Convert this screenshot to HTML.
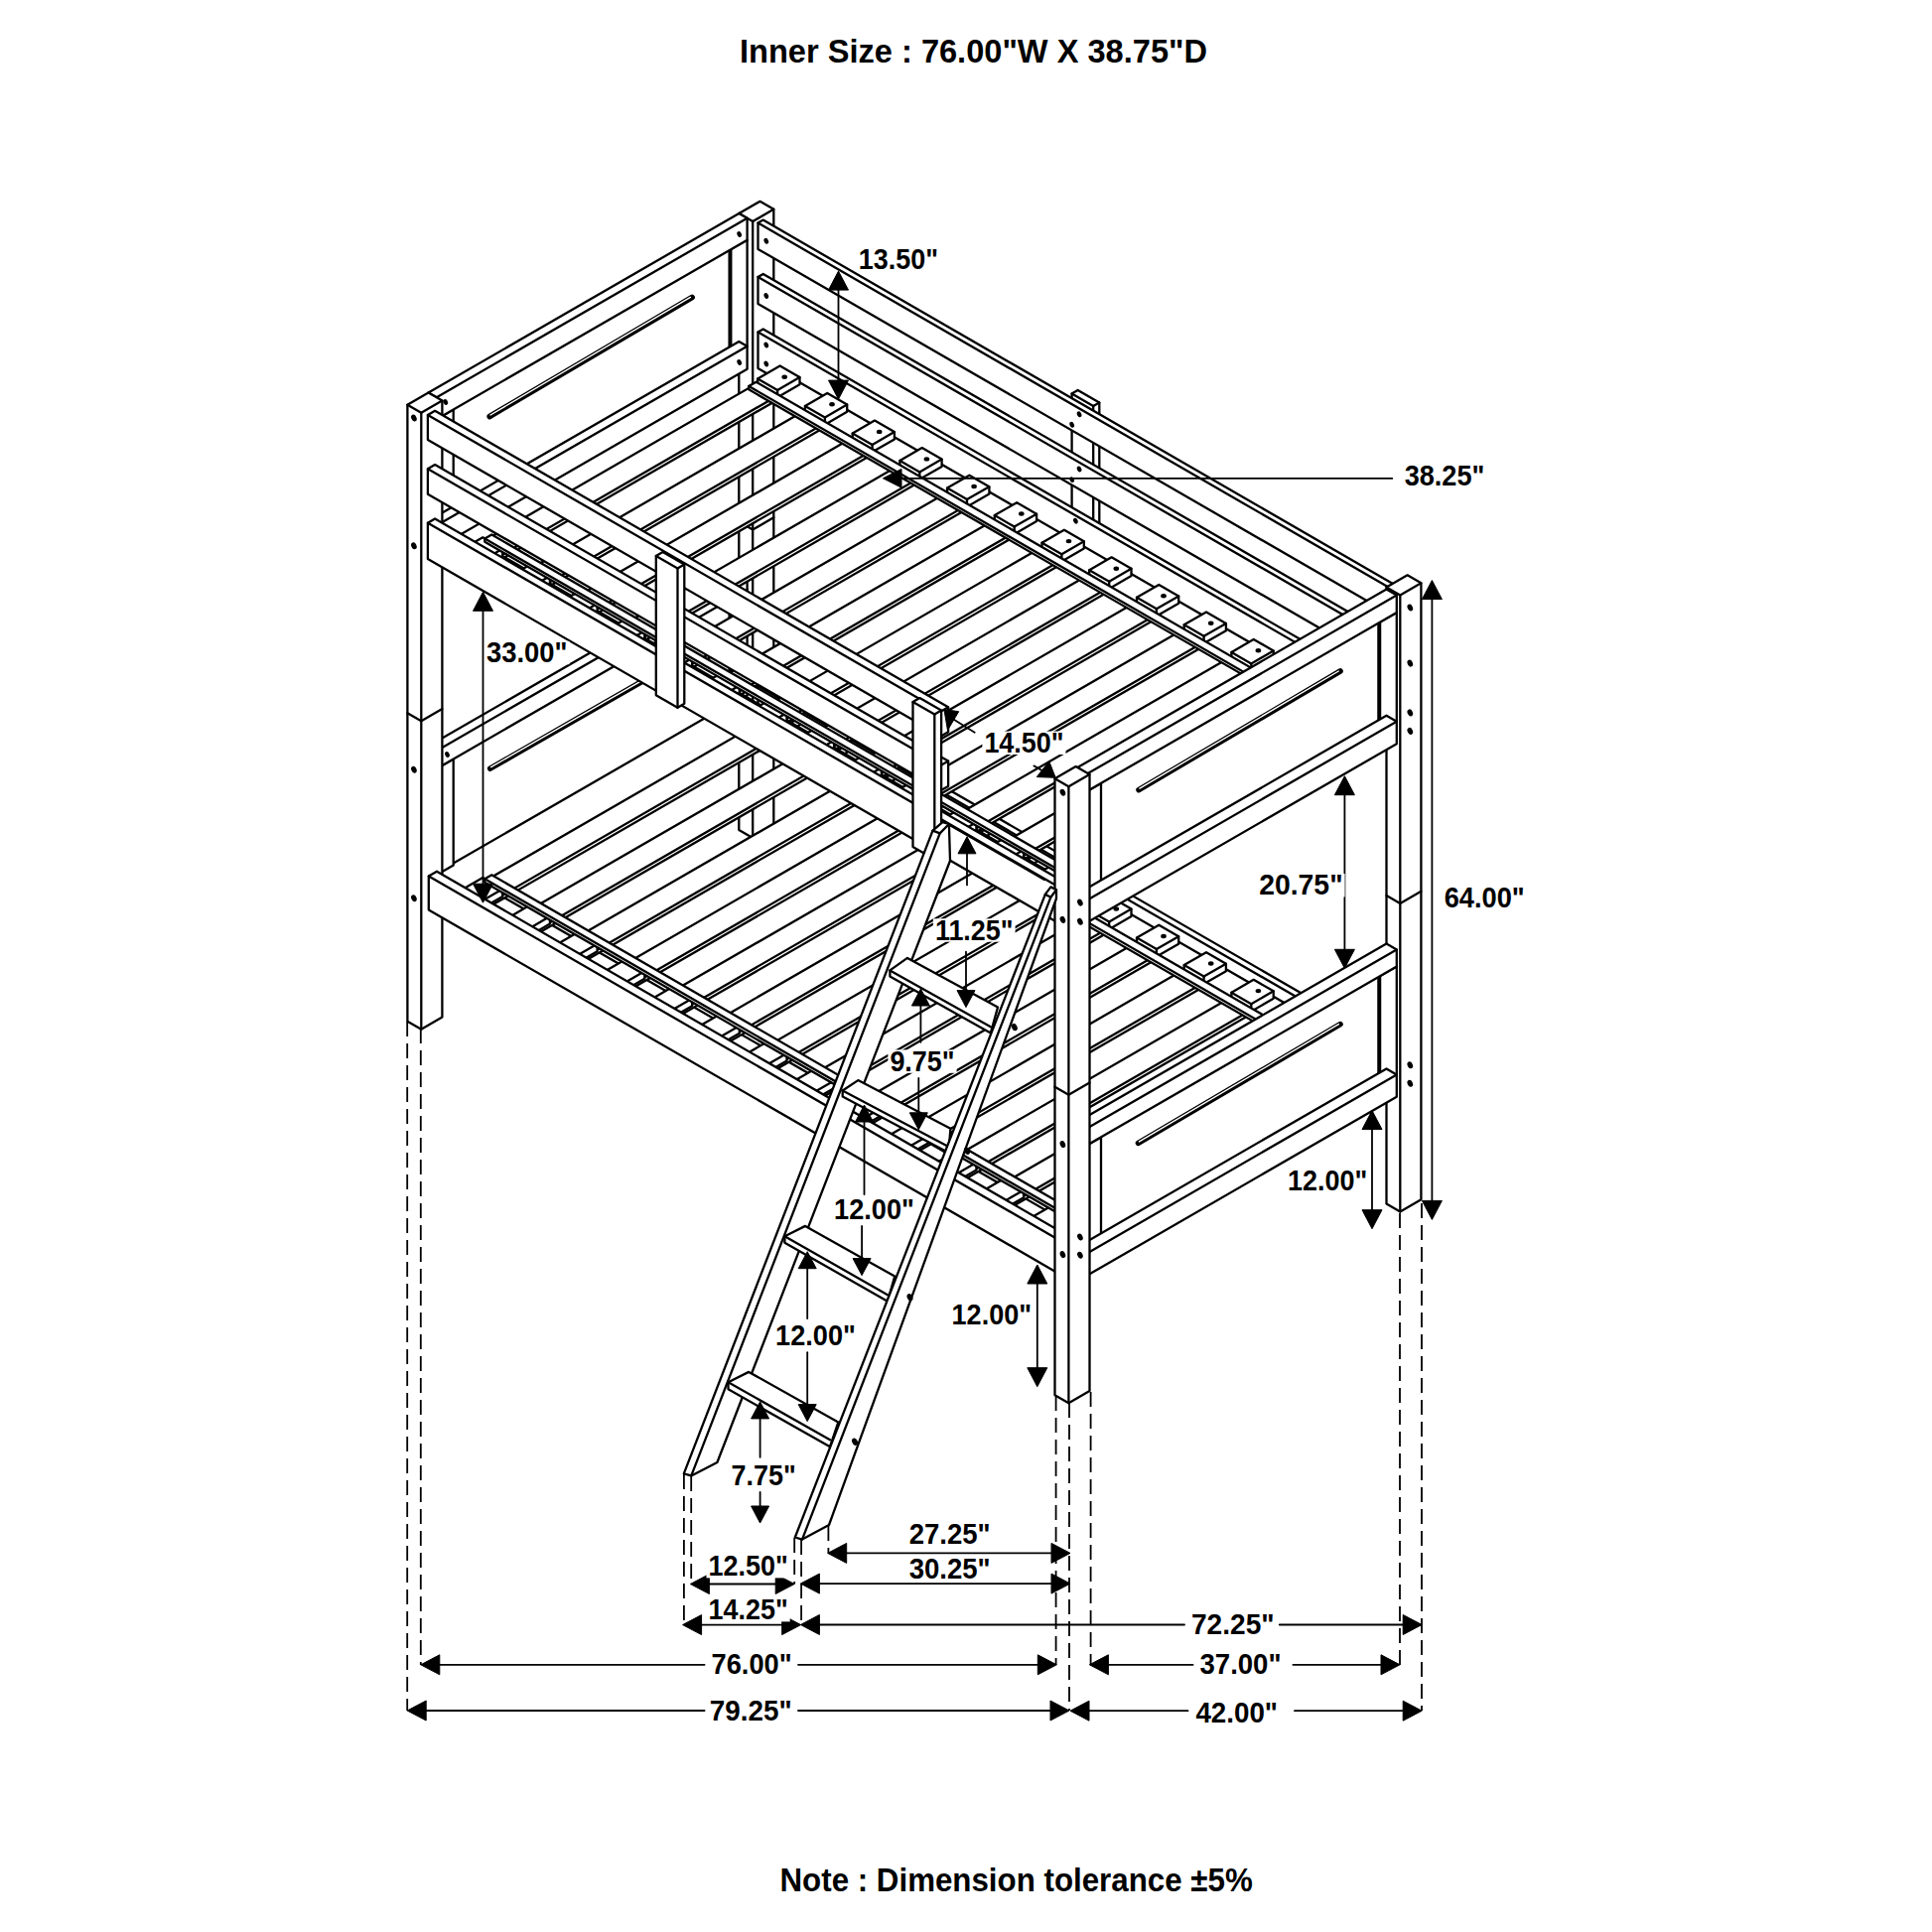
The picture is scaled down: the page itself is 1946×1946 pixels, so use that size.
<!DOCTYPE html>
<html><head><meta charset="utf-8"><style>
html,body{margin:0;padding:0;background:#fff;}
svg{display:block;}
</style></head><body>
<svg xmlns="http://www.w3.org/2000/svg" width="1946" height="1946" viewBox="0 0 1946 1946">
<rect width="1946" height="1946" fill="#fff"/>
<polygon points="744.3,215.0 765.5,202.8 779.3,210.8 779.3,831.8 758.2,844.0 744.3,836.0" fill="#fff" stroke="#000" stroke-width="2.30" stroke-linejoin="round" />
<line x1="758.2" y1="223.0" x2="744.3" y2="215.0" stroke="#000" stroke-width="2.30" stroke-linecap="round" />
<line x1="758.2" y1="223.0" x2="779.3" y2="210.8" stroke="#000" stroke-width="2.30" stroke-linecap="round" />
<line x1="758.2" y1="223.0" x2="758.2" y2="844.0" stroke="#000" stroke-width="2.30" stroke-linecap="round" />
<polyline points="744.3,525.5 758.2,533.5 779.3,521.3" fill="none" stroke="#000" stroke-width="2.30" stroke-linejoin="round" stroke-linecap="round" />
<polygon points="438.0,773.3 750.8,592.8 750.8,699.8 438.0,880.3" fill="#fff" stroke="#000" stroke-width="2.30" stroke-linejoin="round" />
<polygon points="438.0,773.3 455.0,763.5 456.7,764.5 456.7,871.5 439.8,881.3 438.0,880.3" fill="#fff" stroke="#000" stroke-width="2.30" stroke-linejoin="round" />
<line x1="439.8" y1="774.3" x2="438.0" y2="773.3" stroke="#000" stroke-width="2.30" stroke-linecap="round" />
<line x1="439.8" y1="774.3" x2="456.7" y2="764.5" stroke="#000" stroke-width="2.30" stroke-linecap="round" />
<line x1="439.8" y1="774.3" x2="439.8" y2="881.3" stroke="#000" stroke-width="2.30" stroke-linecap="round" />
<polygon points="734.6,602.1 750.8,592.8 752.6,593.8 752.6,700.8 736.3,710.1 734.6,709.1" fill="#fff" stroke="#000" stroke-width="2.30" stroke-linejoin="round" />
<line x1="736.3" y1="603.1" x2="734.6" y2="602.1" stroke="#000" stroke-width="2.30" stroke-linecap="round" />
<line x1="736.3" y1="603.1" x2="752.6" y2="593.8" stroke="#000" stroke-width="2.30" stroke-linecap="round" />
<line x1="736.3" y1="603.1" x2="736.3" y2="710.1" stroke="#000" stroke-width="2.30" stroke-linecap="round" />
<polygon points="431.5,751.6 744.3,571.0 752.6,575.8 752.6,593.8 439.8,774.3 431.5,769.6" fill="#fff" stroke="#000" stroke-width="2.30" stroke-linejoin="round" />
<line x1="439.8" y1="756.3" x2="431.5" y2="751.6" stroke="#000" stroke-width="2.30" stroke-linecap="round" />
<line x1="439.8" y1="756.3" x2="752.6" y2="575.8" stroke="#000" stroke-width="2.30" stroke-linecap="round" />
<line x1="439.8" y1="756.3" x2="439.8" y2="774.3" stroke="#000" stroke-width="2.30" stroke-linecap="round" />
<line x1="493.7" y1="774.1" x2="695.8" y2="658.3" stroke="#000" stroke-width="5.6" stroke-linecap="round"/>
<line x1="494.6" y1="772.6" x2="694.0" y2="658.3" stroke="#fff" stroke-width="1.4" stroke-linecap="round"/>
<polygon points="438.0,421.3 750.8,240.8 750.8,347.8 438.0,528.3" fill="#fff" stroke="#000" stroke-width="2.30" stroke-linejoin="round" />
<polygon points="438.0,421.3 455.0,411.5 456.7,412.5 456.7,519.5 439.8,529.3 438.0,528.3" fill="#fff" stroke="#000" stroke-width="2.30" stroke-linejoin="round" />
<line x1="439.8" y1="422.3" x2="438.0" y2="421.3" stroke="#000" stroke-width="2.30" stroke-linecap="round" />
<line x1="439.8" y1="422.3" x2="456.7" y2="412.5" stroke="#000" stroke-width="2.30" stroke-linecap="round" />
<line x1="439.8" y1="422.3" x2="439.8" y2="529.3" stroke="#000" stroke-width="2.30" stroke-linecap="round" />
<polygon points="734.6,250.1 750.8,240.8 752.6,241.8 752.6,348.8 736.3,358.1 734.6,357.1" fill="#fff" stroke="#000" stroke-width="2.30" stroke-linejoin="round" />
<line x1="736.3" y1="251.1" x2="734.6" y2="250.1" stroke="#000" stroke-width="2.30" stroke-linecap="round" />
<line x1="736.3" y1="251.1" x2="752.6" y2="241.8" stroke="#000" stroke-width="2.30" stroke-linecap="round" />
<line x1="736.3" y1="251.1" x2="736.3" y2="358.1" stroke="#000" stroke-width="2.30" stroke-linecap="round" />
<polygon points="431.5,395.6 744.3,215.0 752.6,219.8 752.6,241.8 439.8,422.3 431.5,417.6" fill="#fff" stroke="#000" stroke-width="2.30" stroke-linejoin="round" />
<line x1="439.8" y1="400.3" x2="431.5" y2="395.6" stroke="#000" stroke-width="2.30" stroke-linecap="round" />
<line x1="439.8" y1="400.3" x2="752.6" y2="219.8" stroke="#000" stroke-width="2.30" stroke-linecap="round" />
<line x1="439.8" y1="400.3" x2="439.8" y2="422.3" stroke="#000" stroke-width="2.30" stroke-linecap="round" />
<polygon points="431.5,524.6 744.3,344.0 752.6,348.8 752.6,371.8 439.8,552.3 431.5,547.6" fill="#fff" stroke="#000" stroke-width="2.30" stroke-linejoin="round" />
<line x1="439.8" y1="529.3" x2="431.5" y2="524.6" stroke="#000" stroke-width="2.30" stroke-linecap="round" />
<line x1="439.8" y1="529.3" x2="752.6" y2="348.8" stroke="#000" stroke-width="2.30" stroke-linecap="round" />
<line x1="439.8" y1="529.3" x2="439.8" y2="552.3" stroke="#000" stroke-width="2.30" stroke-linecap="round" />
<line x1="493.2" y1="419.5" x2="697.1" y2="299.5" stroke="#000" stroke-width="5.6" stroke-linecap="round"/>
<line x1="494.0" y1="418.0" x2="695.4" y2="299.4" stroke="#fff" stroke-width="1.4" stroke-linecap="round"/>
<polygon points="763.5,690.9 769.1,687.7 1407.4,1056.2 1407.4,1090.2 1401.7,1093.5 763.5,724.9" fill="#fff" stroke="#000" stroke-width="2.30" stroke-linejoin="round" />
<line x1="1401.7" y1="1059.5" x2="763.5" y2="690.9" stroke="#000" stroke-width="2.30" stroke-linecap="round" />
<line x1="1401.7" y1="1059.5" x2="1407.4" y2="1056.2" stroke="#000" stroke-width="2.30" stroke-linecap="round" />
<line x1="1401.7" y1="1059.5" x2="1401.7" y2="1093.5" stroke="#000" stroke-width="2.30" stroke-linecap="round" />
<polygon points="760.1,729.9 784.3,715.9 1401.7,1072.5 1401.7,1078.5 1377.6,1092.4 760.1,735.9" fill="#fff" stroke="#000" stroke-width="2.30" stroke-linejoin="round" />
<line x1="1377.6" y1="1086.4" x2="760.1" y2="729.9" stroke="#000" stroke-width="2.30" stroke-linecap="round" />
<line x1="1377.6" y1="1086.4" x2="1401.7" y2="1072.5" stroke="#000" stroke-width="2.30" stroke-linecap="round" />
<line x1="1377.6" y1="1086.4" x2="1377.6" y2="1092.4" stroke="#000" stroke-width="2.30" stroke-linecap="round" />
<polygon points="460.8,902.7 483.1,889.8 1100.6,1246.3 1100.6,1252.3 1078.3,1265.2 460.8,908.7" fill="#fff" stroke="#000" stroke-width="2.30" stroke-linejoin="round" />
<line x1="1078.3" y1="1259.2" x2="460.8" y2="902.7" stroke="#000" stroke-width="2.30" stroke-linecap="round" />
<line x1="1078.3" y1="1259.2" x2="1100.6" y2="1246.3" stroke="#000" stroke-width="2.30" stroke-linecap="round" />
<line x1="1078.3" y1="1259.2" x2="1078.3" y2="1265.2" stroke="#000" stroke-width="2.30" stroke-linecap="round" />
<polygon points="466.7,899.9 764.1,728.2 785.3,740.4 785.3,744.4 487.9,916.1 466.7,903.9" fill="#fff" stroke="#000" stroke-width="2.30" stroke-linejoin="round" />
<line x1="487.9" y1="912.1" x2="466.7" y2="899.9" stroke="#000" stroke-width="2.30" stroke-linecap="round" />
<line x1="487.9" y1="912.1" x2="785.3" y2="740.4" stroke="#000" stroke-width="2.30" stroke-linecap="round" />
<line x1="487.9" y1="912.1" x2="487.9" y2="916.1" stroke="#000" stroke-width="2.30" stroke-linecap="round" />
<polygon points="514.4,927.5 811.8,755.8 833.0,768.0 833.0,772.0 535.6,943.7 514.4,931.5" fill="#fff" stroke="#000" stroke-width="2.30" stroke-linejoin="round" />
<line x1="535.6" y1="939.7" x2="514.4" y2="927.5" stroke="#000" stroke-width="2.30" stroke-linecap="round" />
<line x1="535.6" y1="939.7" x2="833.0" y2="768.0" stroke="#000" stroke-width="2.30" stroke-linecap="round" />
<line x1="535.6" y1="939.7" x2="535.6" y2="943.7" stroke="#000" stroke-width="2.30" stroke-linecap="round" />
<polygon points="562.1,955.0 859.5,783.3 880.7,795.5 880.7,799.5 583.3,971.2 562.1,959.0" fill="#fff" stroke="#000" stroke-width="2.30" stroke-linejoin="round" />
<line x1="583.3" y1="967.2" x2="562.1" y2="955.0" stroke="#000" stroke-width="2.30" stroke-linecap="round" />
<line x1="583.3" y1="967.2" x2="880.7" y2="795.5" stroke="#000" stroke-width="2.30" stroke-linecap="round" />
<line x1="583.3" y1="967.2" x2="583.3" y2="971.2" stroke="#000" stroke-width="2.30" stroke-linecap="round" />
<polygon points="609.8,982.5 907.2,810.8 928.5,823.1 928.5,827.1 631.1,998.8 609.8,986.5" fill="#fff" stroke="#000" stroke-width="2.30" stroke-linejoin="round" />
<line x1="631.1" y1="994.8" x2="609.8" y2="982.5" stroke="#000" stroke-width="2.30" stroke-linecap="round" />
<line x1="631.1" y1="994.8" x2="928.5" y2="823.1" stroke="#000" stroke-width="2.30" stroke-linecap="round" />
<line x1="631.1" y1="994.8" x2="631.1" y2="998.8" stroke="#000" stroke-width="2.30" stroke-linecap="round" />
<polygon points="657.6,1010.1 955.0,838.4 976.2,850.6 976.2,854.6 678.8,1026.3 657.6,1014.1" fill="#fff" stroke="#000" stroke-width="2.30" stroke-linejoin="round" />
<line x1="678.8" y1="1022.3" x2="657.6" y2="1010.1" stroke="#000" stroke-width="2.30" stroke-linecap="round" />
<line x1="678.8" y1="1022.3" x2="976.2" y2="850.6" stroke="#000" stroke-width="2.30" stroke-linecap="round" />
<line x1="678.8" y1="1022.3" x2="678.8" y2="1026.3" stroke="#000" stroke-width="2.30" stroke-linecap="round" />
<polygon points="705.3,1037.7 1002.7,865.9 1023.9,878.2 1023.9,882.2 726.5,1053.9 705.3,1041.7" fill="#fff" stroke="#000" stroke-width="2.30" stroke-linejoin="round" />
<line x1="726.5" y1="1049.9" x2="705.3" y2="1037.7" stroke="#000" stroke-width="2.30" stroke-linecap="round" />
<line x1="726.5" y1="1049.9" x2="1023.9" y2="878.2" stroke="#000" stroke-width="2.30" stroke-linecap="round" />
<line x1="726.5" y1="1049.9" x2="726.5" y2="1053.9" stroke="#000" stroke-width="2.30" stroke-linecap="round" />
<polygon points="753.0,1065.2 1050.4,893.5 1071.6,905.8 1071.6,909.8 774.2,1081.5 753.0,1069.2" fill="#fff" stroke="#000" stroke-width="2.30" stroke-linejoin="round" />
<line x1="774.2" y1="1077.5" x2="753.0" y2="1065.2" stroke="#000" stroke-width="2.30" stroke-linecap="round" />
<line x1="774.2" y1="1077.5" x2="1071.6" y2="905.8" stroke="#000" stroke-width="2.30" stroke-linecap="round" />
<line x1="774.2" y1="1077.5" x2="774.2" y2="1081.5" stroke="#000" stroke-width="2.30" stroke-linecap="round" />
<polygon points="800.7,1092.8 1098.1,921.0 1119.3,933.3 1119.3,937.3 821.9,1109.0 800.7,1096.8" fill="#fff" stroke="#000" stroke-width="2.30" stroke-linejoin="round" />
<line x1="821.9" y1="1105.0" x2="800.7" y2="1092.8" stroke="#000" stroke-width="2.30" stroke-linecap="round" />
<line x1="821.9" y1="1105.0" x2="1119.3" y2="933.3" stroke="#000" stroke-width="2.30" stroke-linecap="round" />
<line x1="821.9" y1="1105.0" x2="821.9" y2="1109.0" stroke="#000" stroke-width="2.30" stroke-linecap="round" />
<polygon points="848.4,1120.3 1145.8,948.6 1167.0,960.8 1167.0,964.8 869.7,1136.5 848.4,1124.3" fill="#fff" stroke="#000" stroke-width="2.30" stroke-linejoin="round" />
<line x1="869.7" y1="1132.5" x2="848.4" y2="1120.3" stroke="#000" stroke-width="2.30" stroke-linecap="round" />
<line x1="869.7" y1="1132.5" x2="1167.0" y2="960.8" stroke="#000" stroke-width="2.30" stroke-linecap="round" />
<line x1="869.7" y1="1132.5" x2="869.7" y2="1136.5" stroke="#000" stroke-width="2.30" stroke-linecap="round" />
<polygon points="896.2,1147.8 1193.5,976.1 1214.8,988.4 1214.8,992.4 917.4,1164.1 896.2,1151.8" fill="#fff" stroke="#000" stroke-width="2.30" stroke-linejoin="round" />
<line x1="917.4" y1="1160.1" x2="896.2" y2="1147.8" stroke="#000" stroke-width="2.30" stroke-linecap="round" />
<line x1="917.4" y1="1160.1" x2="1214.8" y2="988.4" stroke="#000" stroke-width="2.30" stroke-linecap="round" />
<line x1="917.4" y1="1160.1" x2="917.4" y2="1164.1" stroke="#000" stroke-width="2.30" stroke-linecap="round" />
<polygon points="943.9,1175.4 1241.3,1003.7 1262.5,1016.0 1262.5,1020.0 965.1,1191.7 943.9,1179.4" fill="#fff" stroke="#000" stroke-width="2.30" stroke-linejoin="round" />
<line x1="965.1" y1="1187.7" x2="943.9" y2="1175.4" stroke="#000" stroke-width="2.30" stroke-linecap="round" />
<line x1="965.1" y1="1187.7" x2="1262.5" y2="1016.0" stroke="#000" stroke-width="2.30" stroke-linecap="round" />
<line x1="965.1" y1="1187.7" x2="965.1" y2="1191.7" stroke="#000" stroke-width="2.30" stroke-linecap="round" />
<polygon points="991.6,1203.0 1289.0,1031.2 1310.2,1043.5 1310.2,1047.5 1012.8,1219.2 991.6,1207.0" fill="#fff" stroke="#000" stroke-width="2.30" stroke-linejoin="round" />
<line x1="1012.8" y1="1215.2" x2="991.6" y2="1203.0" stroke="#000" stroke-width="2.30" stroke-linecap="round" />
<line x1="1012.8" y1="1215.2" x2="1310.2" y2="1043.5" stroke="#000" stroke-width="2.30" stroke-linecap="round" />
<line x1="1012.8" y1="1215.2" x2="1012.8" y2="1219.2" stroke="#000" stroke-width="2.30" stroke-linecap="round" />
<polygon points="1039.3,1230.5 1336.7,1058.8 1357.9,1071.0 1357.9,1075.0 1060.5,1246.8 1039.3,1234.5" fill="#fff" stroke="#000" stroke-width="2.30" stroke-linejoin="round" />
<line x1="1060.5" y1="1242.8" x2="1039.3" y2="1230.5" stroke="#000" stroke-width="2.30" stroke-linecap="round" />
<line x1="1060.5" y1="1242.8" x2="1357.9" y2="1071.0" stroke="#000" stroke-width="2.30" stroke-linecap="round" />
<line x1="1060.5" y1="1242.8" x2="1060.5" y2="1246.8" stroke="#000" stroke-width="2.30" stroke-linecap="round" />
<polygon points="763.2,724.2 785.6,711.3 805.5,722.8 805.5,730.3 783.1,743.2 763.2,731.7" fill="#fff" stroke="#000" stroke-width="2.30" stroke-linejoin="round" />
<line x1="783.1" y1="735.7" x2="763.2" y2="724.2" stroke="#000" stroke-width="2.30" stroke-linecap="round" />
<line x1="783.1" y1="735.7" x2="805.5" y2="722.8" stroke="#000" stroke-width="2.30" stroke-linecap="round" />
<line x1="783.1" y1="735.7" x2="783.1" y2="743.2" stroke="#000" stroke-width="2.30" stroke-linecap="round" />
<ellipse cx="790.2" cy="722.6" rx="2.80" ry="2.20" fill="#000" transform="rotate(0 790.2 722.6)"/>
<polygon points="810.9,751.8 833.3,738.8 853.2,750.3 853.2,757.8 830.9,770.8 810.9,759.2" fill="#fff" stroke="#000" stroke-width="2.30" stroke-linejoin="round" />
<line x1="830.9" y1="763.2" x2="810.9" y2="751.8" stroke="#000" stroke-width="2.30" stroke-linecap="round" />
<line x1="830.9" y1="763.2" x2="853.2" y2="750.3" stroke="#000" stroke-width="2.30" stroke-linecap="round" />
<line x1="830.9" y1="763.2" x2="830.9" y2="770.8" stroke="#000" stroke-width="2.30" stroke-linecap="round" />
<ellipse cx="838.0" cy="750.1" rx="2.80" ry="2.20" fill="#000" transform="rotate(0 838.0 750.1)"/>
<polygon points="858.7,779.3 881.0,766.4 900.9,777.9 900.9,785.4 878.6,798.3 858.7,786.8" fill="#fff" stroke="#000" stroke-width="2.30" stroke-linejoin="round" />
<line x1="878.6" y1="790.8" x2="858.7" y2="779.3" stroke="#000" stroke-width="2.30" stroke-linecap="round" />
<line x1="878.6" y1="790.8" x2="900.9" y2="777.9" stroke="#000" stroke-width="2.30" stroke-linecap="round" />
<line x1="878.6" y1="790.8" x2="878.6" y2="798.3" stroke="#000" stroke-width="2.30" stroke-linecap="round" />
<ellipse cx="885.7" cy="777.7" rx="2.80" ry="2.20" fill="#000" transform="rotate(0 885.7 777.7)"/>
<polygon points="906.4,806.8 928.7,793.9 948.6,805.4 948.6,812.9 926.3,825.8 906.4,814.3" fill="#fff" stroke="#000" stroke-width="2.30" stroke-linejoin="round" />
<line x1="926.3" y1="818.3" x2="906.4" y2="806.8" stroke="#000" stroke-width="2.30" stroke-linecap="round" />
<line x1="926.3" y1="818.3" x2="948.6" y2="805.4" stroke="#000" stroke-width="2.30" stroke-linecap="round" />
<line x1="926.3" y1="818.3" x2="926.3" y2="825.8" stroke="#000" stroke-width="2.30" stroke-linecap="round" />
<ellipse cx="933.4" cy="805.2" rx="2.80" ry="2.20" fill="#000" transform="rotate(0 933.4 805.2)"/>
<polygon points="954.1,834.4 976.4,821.5 996.4,833.0 996.4,840.5 974.0,853.4 954.1,841.9" fill="#fff" stroke="#000" stroke-width="2.30" stroke-linejoin="round" />
<line x1="974.0" y1="845.9" x2="954.1" y2="834.4" stroke="#000" stroke-width="2.30" stroke-linecap="round" />
<line x1="974.0" y1="845.9" x2="996.4" y2="833.0" stroke="#000" stroke-width="2.30" stroke-linecap="round" />
<line x1="974.0" y1="845.9" x2="974.0" y2="853.4" stroke="#000" stroke-width="2.30" stroke-linecap="round" />
<ellipse cx="981.1" cy="832.8" rx="2.80" ry="2.20" fill="#000" transform="rotate(0 981.1 832.8)"/>
<polygon points="1001.8,861.9 1024.2,849.0 1044.1,860.5 1044.1,868.0 1021.7,880.9 1001.8,869.4" fill="#fff" stroke="#000" stroke-width="2.30" stroke-linejoin="round" />
<line x1="1021.7" y1="873.4" x2="1001.8" y2="861.9" stroke="#000" stroke-width="2.30" stroke-linecap="round" />
<line x1="1021.7" y1="873.4" x2="1044.1" y2="860.5" stroke="#000" stroke-width="2.30" stroke-linecap="round" />
<line x1="1021.7" y1="873.4" x2="1021.7" y2="880.9" stroke="#000" stroke-width="2.30" stroke-linecap="round" />
<ellipse cx="1028.8" cy="860.3" rx="2.80" ry="2.20" fill="#000" transform="rotate(0 1028.8 860.3)"/>
<polygon points="1049.5,889.5 1071.9,876.6 1091.8,888.1 1091.8,895.6 1069.4,908.5 1049.5,897.0" fill="#fff" stroke="#000" stroke-width="2.30" stroke-linejoin="round" />
<line x1="1069.4" y1="901.0" x2="1049.5" y2="889.5" stroke="#000" stroke-width="2.30" stroke-linecap="round" />
<line x1="1069.4" y1="901.0" x2="1091.8" y2="888.1" stroke="#000" stroke-width="2.30" stroke-linecap="round" />
<line x1="1069.4" y1="901.0" x2="1069.4" y2="908.5" stroke="#000" stroke-width="2.30" stroke-linecap="round" />
<ellipse cx="1076.5" cy="887.9" rx="2.80" ry="2.20" fill="#000" transform="rotate(0 1076.5 887.9)"/>
<polygon points="1097.2,917.0 1119.6,904.1 1139.5,915.6 1139.5,923.1 1117.2,936.0 1097.2,924.5" fill="#fff" stroke="#000" stroke-width="2.30" stroke-linejoin="round" />
<line x1="1117.2" y1="928.5" x2="1097.2" y2="917.0" stroke="#000" stroke-width="2.30" stroke-linecap="round" />
<line x1="1117.2" y1="928.5" x2="1139.5" y2="915.6" stroke="#000" stroke-width="2.30" stroke-linecap="round" />
<line x1="1117.2" y1="928.5" x2="1117.2" y2="936.0" stroke="#000" stroke-width="2.30" stroke-linecap="round" />
<ellipse cx="1124.3" cy="915.5" rx="2.80" ry="2.20" fill="#000" transform="rotate(0 1124.3 915.5)"/>
<polygon points="1145.0,944.6 1167.3,931.7 1187.2,943.2 1187.2,950.7 1164.9,963.6 1145.0,952.1" fill="#fff" stroke="#000" stroke-width="2.30" stroke-linejoin="round" />
<line x1="1164.9" y1="956.1" x2="1145.0" y2="944.6" stroke="#000" stroke-width="2.30" stroke-linecap="round" />
<line x1="1164.9" y1="956.1" x2="1187.2" y2="943.2" stroke="#000" stroke-width="2.30" stroke-linecap="round" />
<line x1="1164.9" y1="956.1" x2="1164.9" y2="963.6" stroke="#000" stroke-width="2.30" stroke-linecap="round" />
<ellipse cx="1172.0" cy="943.0" rx="2.80" ry="2.20" fill="#000" transform="rotate(0 1172.0 943.0)"/>
<polygon points="1192.7,972.1 1215.0,959.2 1234.9,970.8 1234.9,978.2 1212.6,991.1 1192.7,979.6" fill="#fff" stroke="#000" stroke-width="2.30" stroke-linejoin="round" />
<line x1="1212.6" y1="983.6" x2="1192.7" y2="972.1" stroke="#000" stroke-width="2.30" stroke-linecap="round" />
<line x1="1212.6" y1="983.6" x2="1234.9" y2="970.8" stroke="#000" stroke-width="2.30" stroke-linecap="round" />
<line x1="1212.6" y1="983.6" x2="1212.6" y2="991.1" stroke="#000" stroke-width="2.30" stroke-linecap="round" />
<ellipse cx="1219.7" cy="970.5" rx="2.80" ry="2.20" fill="#000" transform="rotate(0 1219.7 970.5)"/>
<polygon points="1240.4,999.7 1262.7,986.8 1282.7,998.3 1282.7,1005.8 1260.3,1018.7 1240.4,1007.2" fill="#fff" stroke="#000" stroke-width="2.30" stroke-linejoin="round" />
<line x1="1260.3" y1="1011.2" x2="1240.4" y2="999.7" stroke="#000" stroke-width="2.30" stroke-linecap="round" />
<line x1="1260.3" y1="1011.2" x2="1282.7" y2="998.3" stroke="#000" stroke-width="2.30" stroke-linecap="round" />
<line x1="1260.3" y1="1011.2" x2="1260.3" y2="1018.7" stroke="#000" stroke-width="2.30" stroke-linecap="round" />
<ellipse cx="1267.4" cy="998.1" rx="2.80" ry="2.20" fill="#000" transform="rotate(0 1267.4 998.1)"/>
<polygon points="1288.1,1027.2 1310.5,1014.3 1330.4,1025.8 1330.4,1033.3 1308.0,1046.2 1288.1,1034.8" fill="#fff" stroke="#000" stroke-width="2.30" stroke-linejoin="round" />
<line x1="1308.0" y1="1038.8" x2="1288.1" y2="1027.2" stroke="#000" stroke-width="2.30" stroke-linecap="round" />
<line x1="1308.0" y1="1038.8" x2="1330.4" y2="1025.8" stroke="#000" stroke-width="2.30" stroke-linecap="round" />
<line x1="1308.0" y1="1038.8" x2="1308.0" y2="1046.2" stroke="#000" stroke-width="2.30" stroke-linecap="round" />
<ellipse cx="1315.1" cy="1025.7" rx="2.80" ry="2.20" fill="#000" transform="rotate(0 1315.1 1025.7)"/>
<polygon points="1335.8,1054.8 1358.2,1041.9 1378.1,1053.4 1378.1,1060.9 1355.8,1073.8 1335.8,1062.3" fill="#fff" stroke="#000" stroke-width="2.30" stroke-linejoin="round" />
<line x1="1355.8" y1="1066.3" x2="1335.8" y2="1054.8" stroke="#000" stroke-width="2.30" stroke-linecap="round" />
<line x1="1355.8" y1="1066.3" x2="1378.1" y2="1053.4" stroke="#000" stroke-width="2.30" stroke-linecap="round" />
<line x1="1355.8" y1="1066.3" x2="1355.8" y2="1073.8" stroke="#000" stroke-width="2.30" stroke-linecap="round" />
<ellipse cx="1362.9" cy="1053.2" rx="2.80" ry="2.20" fill="#000" transform="rotate(0 1362.9 1053.2)"/>
<polygon points="754.2,731.8 761.6,727.5 1362.6,1074.5 1362.6,1078.0 1355.2,1082.3 754.2,735.3" fill="#fff" stroke="#000" stroke-width="2.30" stroke-linejoin="round" />
<line x1="1355.2" y1="1078.8" x2="754.2" y2="731.8" stroke="#000" stroke-width="2.30" stroke-linecap="round" />
<line x1="1355.2" y1="1078.8" x2="1362.6" y2="1074.5" stroke="#000" stroke-width="2.30" stroke-linecap="round" />
<line x1="1355.2" y1="1078.8" x2="1355.2" y2="1082.3" stroke="#000" stroke-width="2.30" stroke-linecap="round" />
<polygon points="464.2,896.8 486.3,884.1 506.2,895.6 506.2,903.1 484.1,915.8 464.2,904.3" fill="#fff" stroke="#000" stroke-width="2.30" stroke-linejoin="round" />
<line x1="484.1" y1="908.3" x2="464.2" y2="896.8" stroke="#000" stroke-width="2.30" stroke-linecap="round" />
<line x1="484.1" y1="908.3" x2="506.2" y2="895.6" stroke="#000" stroke-width="2.30" stroke-linecap="round" />
<line x1="484.1" y1="908.3" x2="484.1" y2="915.8" stroke="#000" stroke-width="2.30" stroke-linecap="round" />
<polygon points="511.9,924.4 534.0,911.6 553.9,923.1 553.9,930.6 531.8,943.4 511.9,931.9" fill="#fff" stroke="#000" stroke-width="2.30" stroke-linejoin="round" />
<line x1="531.8" y1="935.9" x2="511.9" y2="924.4" stroke="#000" stroke-width="2.30" stroke-linecap="round" />
<line x1="531.8" y1="935.9" x2="553.9" y2="923.1" stroke="#000" stroke-width="2.30" stroke-linecap="round" />
<line x1="531.8" y1="935.9" x2="531.8" y2="943.4" stroke="#000" stroke-width="2.30" stroke-linecap="round" />
<polygon points="559.6,952.0 581.7,939.2 601.6,950.7 601.6,958.2 579.5,971.0 559.6,959.5" fill="#fff" stroke="#000" stroke-width="2.30" stroke-linejoin="round" />
<line x1="579.5" y1="963.5" x2="559.6" y2="952.0" stroke="#000" stroke-width="2.30" stroke-linecap="round" />
<line x1="579.5" y1="963.5" x2="601.6" y2="950.7" stroke="#000" stroke-width="2.30" stroke-linecap="round" />
<line x1="579.5" y1="963.5" x2="579.5" y2="971.0" stroke="#000" stroke-width="2.30" stroke-linecap="round" />
<polygon points="607.3,979.5 629.4,966.8 649.3,978.2 649.3,985.8 627.3,998.5 607.3,987.0" fill="#fff" stroke="#000" stroke-width="2.30" stroke-linejoin="round" />
<line x1="627.3" y1="991.0" x2="607.3" y2="979.5" stroke="#000" stroke-width="2.30" stroke-linecap="round" />
<line x1="627.3" y1="991.0" x2="649.3" y2="978.2" stroke="#000" stroke-width="2.30" stroke-linecap="round" />
<line x1="627.3" y1="991.0" x2="627.3" y2="998.5" stroke="#000" stroke-width="2.30" stroke-linecap="round" />
<polygon points="655.1,1007.0 677.1,994.3 697.1,1005.8 697.1,1013.3 675.0,1026.0 655.1,1014.5" fill="#fff" stroke="#000" stroke-width="2.30" stroke-linejoin="round" />
<line x1="675.0" y1="1018.5" x2="655.1" y2="1007.0" stroke="#000" stroke-width="2.30" stroke-linecap="round" />
<line x1="675.0" y1="1018.5" x2="697.1" y2="1005.8" stroke="#000" stroke-width="2.30" stroke-linecap="round" />
<line x1="675.0" y1="1018.5" x2="675.0" y2="1026.0" stroke="#000" stroke-width="2.30" stroke-linecap="round" />
<polygon points="702.8,1034.6 724.9,1021.8 744.8,1033.3 744.8,1040.8 722.7,1053.6 702.8,1042.1" fill="#fff" stroke="#000" stroke-width="2.30" stroke-linejoin="round" />
<line x1="722.7" y1="1046.1" x2="702.8" y2="1034.6" stroke="#000" stroke-width="2.30" stroke-linecap="round" />
<line x1="722.7" y1="1046.1" x2="744.8" y2="1033.3" stroke="#000" stroke-width="2.30" stroke-linecap="round" />
<line x1="722.7" y1="1046.1" x2="722.7" y2="1053.6" stroke="#000" stroke-width="2.30" stroke-linecap="round" />
<polygon points="750.5,1062.2 772.6,1049.4 792.5,1060.9 792.5,1068.4 770.4,1081.2 750.5,1069.7" fill="#fff" stroke="#000" stroke-width="2.30" stroke-linejoin="round" />
<line x1="770.4" y1="1073.7" x2="750.5" y2="1062.2" stroke="#000" stroke-width="2.30" stroke-linecap="round" />
<line x1="770.4" y1="1073.7" x2="792.5" y2="1060.9" stroke="#000" stroke-width="2.30" stroke-linecap="round" />
<line x1="770.4" y1="1073.7" x2="770.4" y2="1081.2" stroke="#000" stroke-width="2.30" stroke-linecap="round" />
<polygon points="798.2,1089.7 820.3,1077.0 840.2,1088.5 840.2,1096.0 818.1,1108.7 798.2,1097.2" fill="#fff" stroke="#000" stroke-width="2.30" stroke-linejoin="round" />
<line x1="818.1" y1="1101.2" x2="798.2" y2="1089.7" stroke="#000" stroke-width="2.30" stroke-linecap="round" />
<line x1="818.1" y1="1101.2" x2="840.2" y2="1088.5" stroke="#000" stroke-width="2.30" stroke-linecap="round" />
<line x1="818.1" y1="1101.2" x2="818.1" y2="1108.7" stroke="#000" stroke-width="2.30" stroke-linecap="round" />
<polygon points="845.9,1117.2 868.0,1104.5 887.9,1116.0 887.9,1123.5 865.8,1136.2 845.9,1124.8" fill="#fff" stroke="#000" stroke-width="2.30" stroke-linejoin="round" />
<line x1="865.8" y1="1128.8" x2="845.9" y2="1117.2" stroke="#000" stroke-width="2.30" stroke-linecap="round" />
<line x1="865.8" y1="1128.8" x2="887.9" y2="1116.0" stroke="#000" stroke-width="2.30" stroke-linecap="round" />
<line x1="865.8" y1="1128.8" x2="865.8" y2="1136.2" stroke="#000" stroke-width="2.30" stroke-linecap="round" />
<polygon points="893.6,1144.8 915.7,1132.0 935.6,1143.5 935.6,1151.0 913.6,1163.8 893.6,1152.3" fill="#fff" stroke="#000" stroke-width="2.30" stroke-linejoin="round" />
<line x1="913.6" y1="1156.3" x2="893.6" y2="1144.8" stroke="#000" stroke-width="2.30" stroke-linecap="round" />
<line x1="913.6" y1="1156.3" x2="935.6" y2="1143.5" stroke="#000" stroke-width="2.30" stroke-linecap="round" />
<line x1="913.6" y1="1156.3" x2="913.6" y2="1163.8" stroke="#000" stroke-width="2.30" stroke-linecap="round" />
<polygon points="941.4,1172.3 963.4,1159.6 983.4,1171.1 983.4,1178.6 961.3,1191.3 941.4,1179.8" fill="#fff" stroke="#000" stroke-width="2.30" stroke-linejoin="round" />
<line x1="961.3" y1="1183.8" x2="941.4" y2="1172.3" stroke="#000" stroke-width="2.30" stroke-linecap="round" />
<line x1="961.3" y1="1183.8" x2="983.4" y2="1171.1" stroke="#000" stroke-width="2.30" stroke-linecap="round" />
<line x1="961.3" y1="1183.8" x2="961.3" y2="1191.3" stroke="#000" stroke-width="2.30" stroke-linecap="round" />
<polygon points="989.1,1199.9 1011.2,1187.2 1031.1,1198.7 1031.1,1206.2 1009.0,1218.9 989.1,1207.4" fill="#fff" stroke="#000" stroke-width="2.30" stroke-linejoin="round" />
<line x1="1009.0" y1="1211.4" x2="989.1" y2="1199.9" stroke="#000" stroke-width="2.30" stroke-linecap="round" />
<line x1="1009.0" y1="1211.4" x2="1031.1" y2="1198.7" stroke="#000" stroke-width="2.30" stroke-linecap="round" />
<line x1="1009.0" y1="1211.4" x2="1009.0" y2="1218.9" stroke="#000" stroke-width="2.30" stroke-linecap="round" />
<polygon points="1036.8,1227.5 1058.9,1214.7 1078.8,1226.2 1078.8,1233.7 1056.7,1246.5 1036.8,1235.0" fill="#fff" stroke="#000" stroke-width="2.30" stroke-linejoin="round" />
<line x1="1056.7" y1="1239.0" x2="1036.8" y2="1227.5" stroke="#000" stroke-width="2.30" stroke-linecap="round" />
<line x1="1056.7" y1="1239.0" x2="1078.8" y2="1226.2" stroke="#000" stroke-width="2.30" stroke-linecap="round" />
<line x1="1056.7" y1="1239.0" x2="1056.7" y2="1246.5" stroke="#000" stroke-width="2.30" stroke-linecap="round" />
<polygon points="488.3,885.3 495.3,881.3 1096.3,1228.3 1096.3,1231.8 1089.4,1235.8 488.3,888.8" fill="#fff" stroke="#000" stroke-width="2.30" stroke-linejoin="round" />
<line x1="1089.4" y1="1232.3" x2="488.3" y2="885.3" stroke="#000" stroke-width="2.30" stroke-linecap="round" />
<line x1="1089.4" y1="1232.3" x2="1096.3" y2="1228.3" stroke="#000" stroke-width="2.30" stroke-linecap="round" />
<line x1="1089.4" y1="1232.3" x2="1089.4" y2="1235.8" stroke="#000" stroke-width="2.30" stroke-linecap="round" />
<polygon points="1079.6,396.4 1085.6,392.9 1107.3,405.5 1107.3,586.5 1101.2,590.0 1079.6,577.4" fill="#fff" stroke="#000" stroke-width="2.30" stroke-linejoin="round" />
<line x1="1101.2" y1="409.0" x2="1079.6" y2="396.4" stroke="#000" stroke-width="2.30" stroke-linecap="round" />
<line x1="1101.2" y1="409.0" x2="1107.3" y2="405.5" stroke="#000" stroke-width="2.30" stroke-linecap="round" />
<line x1="1101.2" y1="409.0" x2="1101.2" y2="590.0" stroke="#000" stroke-width="2.30" stroke-linecap="round" />
<polygon points="763.5,224.6 768.7,221.6 1406.9,590.2 1406.9,616.5 1401.7,619.5 763.5,250.9" fill="#fff" stroke="#000" stroke-width="2.30" stroke-linejoin="round" />
<line x1="1401.7" y1="593.2" x2="763.5" y2="224.6" stroke="#000" stroke-width="2.30" stroke-linecap="round" />
<line x1="1401.7" y1="593.2" x2="1406.9" y2="590.2" stroke="#000" stroke-width="2.30" stroke-linecap="round" />
<line x1="1401.7" y1="593.2" x2="1401.7" y2="619.5" stroke="#000" stroke-width="2.30" stroke-linecap="round" />
<polygon points="763.5,278.9 768.7,275.9 1406.9,644.5 1406.9,671.5 1401.7,674.5 763.5,305.9" fill="#fff" stroke="#000" stroke-width="2.30" stroke-linejoin="round" />
<line x1="1401.7" y1="647.5" x2="763.5" y2="278.9" stroke="#000" stroke-width="2.30" stroke-linecap="round" />
<line x1="1401.7" y1="647.5" x2="1406.9" y2="644.5" stroke="#000" stroke-width="2.30" stroke-linecap="round" />
<line x1="1401.7" y1="647.5" x2="1401.7" y2="674.5" stroke="#000" stroke-width="2.30" stroke-linecap="round" />
<polygon points="763.5,334.5 768.7,331.5 1406.9,700.1 1406.9,736.5 1401.7,739.5 763.5,370.9" fill="#fff" stroke="#000" stroke-width="2.30" stroke-linejoin="round" />
<line x1="1401.7" y1="703.1" x2="763.5" y2="334.5" stroke="#000" stroke-width="2.30" stroke-linecap="round" />
<line x1="1401.7" y1="703.1" x2="1406.9" y2="700.1" stroke="#000" stroke-width="2.30" stroke-linecap="round" />
<line x1="1401.7" y1="703.1" x2="1401.7" y2="739.5" stroke="#000" stroke-width="2.30" stroke-linecap="round" />
<polygon points="760.1,386.9 784.3,372.9 1401.7,729.5 1401.7,735.5 1377.6,749.4 760.1,392.9" fill="#fff" stroke="#000" stroke-width="2.30" stroke-linejoin="round" />
<line x1="1377.6" y1="743.4" x2="760.1" y2="386.9" stroke="#000" stroke-width="2.30" stroke-linecap="round" />
<line x1="1377.6" y1="743.4" x2="1401.7" y2="729.5" stroke="#000" stroke-width="2.30" stroke-linecap="round" />
<line x1="1377.6" y1="743.4" x2="1377.6" y2="749.4" stroke="#000" stroke-width="2.30" stroke-linecap="round" />
<polygon points="466.7,556.9 764.1,385.2 785.3,397.4 785.3,401.4 487.9,573.1 466.7,560.9" fill="#fff" stroke="#000" stroke-width="2.30" stroke-linejoin="round" />
<line x1="487.9" y1="569.1" x2="466.7" y2="556.9" stroke="#000" stroke-width="2.30" stroke-linecap="round" />
<line x1="487.9" y1="569.1" x2="785.3" y2="397.4" stroke="#000" stroke-width="2.30" stroke-linecap="round" />
<line x1="487.9" y1="569.1" x2="487.9" y2="573.1" stroke="#000" stroke-width="2.30" stroke-linecap="round" />
<polygon points="514.4,584.5 811.8,412.8 833.0,425.0 833.0,429.0 535.6,600.7 514.4,588.5" fill="#fff" stroke="#000" stroke-width="2.30" stroke-linejoin="round" />
<line x1="535.6" y1="596.7" x2="514.4" y2="584.5" stroke="#000" stroke-width="2.30" stroke-linecap="round" />
<line x1="535.6" y1="596.7" x2="833.0" y2="425.0" stroke="#000" stroke-width="2.30" stroke-linecap="round" />
<line x1="535.6" y1="596.7" x2="535.6" y2="600.7" stroke="#000" stroke-width="2.30" stroke-linecap="round" />
<polygon points="562.1,612.0 859.5,440.3 880.7,452.5 880.7,456.5 583.3,628.2 562.1,616.0" fill="#fff" stroke="#000" stroke-width="2.30" stroke-linejoin="round" />
<line x1="583.3" y1="624.2" x2="562.1" y2="612.0" stroke="#000" stroke-width="2.30" stroke-linecap="round" />
<line x1="583.3" y1="624.2" x2="880.7" y2="452.5" stroke="#000" stroke-width="2.30" stroke-linecap="round" />
<line x1="583.3" y1="624.2" x2="583.3" y2="628.2" stroke="#000" stroke-width="2.30" stroke-linecap="round" />
<polygon points="609.8,639.5 907.2,467.8 928.5,480.1 928.5,484.1 631.1,655.8 609.8,643.5" fill="#fff" stroke="#000" stroke-width="2.30" stroke-linejoin="round" />
<line x1="631.1" y1="651.8" x2="609.8" y2="639.5" stroke="#000" stroke-width="2.30" stroke-linecap="round" />
<line x1="631.1" y1="651.8" x2="928.5" y2="480.1" stroke="#000" stroke-width="2.30" stroke-linecap="round" />
<line x1="631.1" y1="651.8" x2="631.1" y2="655.8" stroke="#000" stroke-width="2.30" stroke-linecap="round" />
<polygon points="657.6,667.1 955.0,495.4 976.2,507.6 976.2,511.6 678.8,683.3 657.6,671.1" fill="#fff" stroke="#000" stroke-width="2.30" stroke-linejoin="round" />
<line x1="678.8" y1="679.3" x2="657.6" y2="667.1" stroke="#000" stroke-width="2.30" stroke-linecap="round" />
<line x1="678.8" y1="679.3" x2="976.2" y2="507.6" stroke="#000" stroke-width="2.30" stroke-linecap="round" />
<line x1="678.8" y1="679.3" x2="678.8" y2="683.3" stroke="#000" stroke-width="2.30" stroke-linecap="round" />
<polygon points="705.3,694.7 1002.7,522.9 1023.9,535.2 1023.9,539.2 726.5,710.9 705.3,698.7" fill="#fff" stroke="#000" stroke-width="2.30" stroke-linejoin="round" />
<line x1="726.5" y1="706.9" x2="705.3" y2="694.7" stroke="#000" stroke-width="2.30" stroke-linecap="round" />
<line x1="726.5" y1="706.9" x2="1023.9" y2="535.2" stroke="#000" stroke-width="2.30" stroke-linecap="round" />
<line x1="726.5" y1="706.9" x2="726.5" y2="710.9" stroke="#000" stroke-width="2.30" stroke-linecap="round" />
<polygon points="753.0,722.2 1050.4,550.5 1071.6,562.8 1071.6,566.8 774.2,738.5 753.0,726.2" fill="#fff" stroke="#000" stroke-width="2.30" stroke-linejoin="round" />
<line x1="774.2" y1="734.5" x2="753.0" y2="722.2" stroke="#000" stroke-width="2.30" stroke-linecap="round" />
<line x1="774.2" y1="734.5" x2="1071.6" y2="562.8" stroke="#000" stroke-width="2.30" stroke-linecap="round" />
<line x1="774.2" y1="734.5" x2="774.2" y2="738.5" stroke="#000" stroke-width="2.30" stroke-linecap="round" />
<polygon points="800.7,749.8 1098.1,578.0 1119.3,590.3 1119.3,594.3 821.9,766.0 800.7,753.8" fill="#fff" stroke="#000" stroke-width="2.30" stroke-linejoin="round" />
<line x1="821.9" y1="762.0" x2="800.7" y2="749.8" stroke="#000" stroke-width="2.30" stroke-linecap="round" />
<line x1="821.9" y1="762.0" x2="1119.3" y2="590.3" stroke="#000" stroke-width="2.30" stroke-linecap="round" />
<line x1="821.9" y1="762.0" x2="821.9" y2="766.0" stroke="#000" stroke-width="2.30" stroke-linecap="round" />
<polygon points="848.4,777.3 1145.8,605.6 1167.0,617.8 1167.0,621.8 869.7,793.5 848.4,781.3" fill="#fff" stroke="#000" stroke-width="2.30" stroke-linejoin="round" />
<line x1="869.7" y1="789.5" x2="848.4" y2="777.3" stroke="#000" stroke-width="2.30" stroke-linecap="round" />
<line x1="869.7" y1="789.5" x2="1167.0" y2="617.8" stroke="#000" stroke-width="2.30" stroke-linecap="round" />
<line x1="869.7" y1="789.5" x2="869.7" y2="793.5" stroke="#000" stroke-width="2.30" stroke-linecap="round" />
<polygon points="896.2,804.8 1193.5,633.1 1214.8,645.4 1214.8,649.4 917.4,821.1 896.2,808.8" fill="#fff" stroke="#000" stroke-width="2.30" stroke-linejoin="round" />
<line x1="917.4" y1="817.1" x2="896.2" y2="804.8" stroke="#000" stroke-width="2.30" stroke-linecap="round" />
<line x1="917.4" y1="817.1" x2="1214.8" y2="645.4" stroke="#000" stroke-width="2.30" stroke-linecap="round" />
<line x1="917.4" y1="817.1" x2="917.4" y2="821.1" stroke="#000" stroke-width="2.30" stroke-linecap="round" />
<polygon points="943.9,832.4 1241.3,660.7 1262.5,673.0 1262.5,677.0 965.1,848.7 943.9,836.4" fill="#fff" stroke="#000" stroke-width="2.30" stroke-linejoin="round" />
<line x1="965.1" y1="844.7" x2="943.9" y2="832.4" stroke="#000" stroke-width="2.30" stroke-linecap="round" />
<line x1="965.1" y1="844.7" x2="1262.5" y2="673.0" stroke="#000" stroke-width="2.30" stroke-linecap="round" />
<line x1="965.1" y1="844.7" x2="965.1" y2="848.7" stroke="#000" stroke-width="2.30" stroke-linecap="round" />
<polygon points="991.6,860.0 1289.0,688.2 1310.2,700.5 1310.2,704.5 1012.8,876.2 991.6,864.0" fill="#fff" stroke="#000" stroke-width="2.30" stroke-linejoin="round" />
<line x1="1012.8" y1="872.2" x2="991.6" y2="860.0" stroke="#000" stroke-width="2.30" stroke-linecap="round" />
<line x1="1012.8" y1="872.2" x2="1310.2" y2="700.5" stroke="#000" stroke-width="2.30" stroke-linecap="round" />
<line x1="1012.8" y1="872.2" x2="1012.8" y2="876.2" stroke="#000" stroke-width="2.30" stroke-linecap="round" />
<polygon points="1039.3,887.5 1336.7,715.8 1357.9,728.0 1357.9,732.0 1060.5,903.8 1039.3,891.5" fill="#fff" stroke="#000" stroke-width="2.30" stroke-linejoin="round" />
<line x1="1060.5" y1="899.8" x2="1039.3" y2="887.5" stroke="#000" stroke-width="2.30" stroke-linecap="round" />
<line x1="1060.5" y1="899.8" x2="1357.9" y2="728.0" stroke="#000" stroke-width="2.30" stroke-linecap="round" />
<line x1="1060.5" y1="899.8" x2="1060.5" y2="903.8" stroke="#000" stroke-width="2.30" stroke-linecap="round" />
<polygon points="763.2,381.4 785.6,368.5 805.5,380.0 805.5,387.3 783.1,400.2 763.2,388.7" fill="#fff" stroke="#000" stroke-width="2.30" stroke-linejoin="round" />
<line x1="783.1" y1="392.9" x2="763.2" y2="381.4" stroke="#000" stroke-width="2.30" stroke-linecap="round" />
<line x1="783.1" y1="392.9" x2="805.5" y2="380.0" stroke="#000" stroke-width="2.30" stroke-linecap="round" />
<line x1="783.1" y1="392.9" x2="783.1" y2="400.2" stroke="#000" stroke-width="2.30" stroke-linecap="round" />
<ellipse cx="790.2" cy="379.8" rx="2.80" ry="2.20" fill="#000" transform="rotate(0 790.2 379.8)"/>
<polygon points="810.9,408.9 833.3,396.0 853.2,407.5 853.2,414.8 830.9,427.8 810.9,416.2" fill="#fff" stroke="#000" stroke-width="2.30" stroke-linejoin="round" />
<line x1="830.9" y1="420.4" x2="810.9" y2="408.9" stroke="#000" stroke-width="2.30" stroke-linecap="round" />
<line x1="830.9" y1="420.4" x2="853.2" y2="407.5" stroke="#000" stroke-width="2.30" stroke-linecap="round" />
<line x1="830.9" y1="420.4" x2="830.9" y2="427.8" stroke="#000" stroke-width="2.30" stroke-linecap="round" />
<ellipse cx="838.0" cy="407.3" rx="2.80" ry="2.20" fill="#000" transform="rotate(0 838.0 407.3)"/>
<polygon points="858.7,436.5 881.0,423.6 900.9,435.1 900.9,442.4 878.6,455.3 858.7,443.8" fill="#fff" stroke="#000" stroke-width="2.30" stroke-linejoin="round" />
<line x1="878.6" y1="448.0" x2="858.7" y2="436.5" stroke="#000" stroke-width="2.30" stroke-linecap="round" />
<line x1="878.6" y1="448.0" x2="900.9" y2="435.1" stroke="#000" stroke-width="2.30" stroke-linecap="round" />
<line x1="878.6" y1="448.0" x2="878.6" y2="455.3" stroke="#000" stroke-width="2.30" stroke-linecap="round" />
<ellipse cx="885.7" cy="434.9" rx="2.80" ry="2.20" fill="#000" transform="rotate(0 885.7 434.9)"/>
<polygon points="906.4,464.0 928.7,451.1 948.6,462.6 948.6,469.9 926.3,482.8 906.4,471.3" fill="#fff" stroke="#000" stroke-width="2.30" stroke-linejoin="round" />
<line x1="926.3" y1="475.5" x2="906.4" y2="464.0" stroke="#000" stroke-width="2.30" stroke-linecap="round" />
<line x1="926.3" y1="475.5" x2="948.6" y2="462.6" stroke="#000" stroke-width="2.30" stroke-linecap="round" />
<line x1="926.3" y1="475.5" x2="926.3" y2="482.8" stroke="#000" stroke-width="2.30" stroke-linecap="round" />
<ellipse cx="933.4" cy="462.4" rx="2.80" ry="2.20" fill="#000" transform="rotate(0 933.4 462.4)"/>
<polygon points="954.1,491.6 976.4,478.7 996.4,490.2 996.4,497.5 974.0,510.4 954.1,498.9" fill="#fff" stroke="#000" stroke-width="2.30" stroke-linejoin="round" />
<line x1="974.0" y1="503.1" x2="954.1" y2="491.6" stroke="#000" stroke-width="2.30" stroke-linecap="round" />
<line x1="974.0" y1="503.1" x2="996.4" y2="490.2" stroke="#000" stroke-width="2.30" stroke-linecap="round" />
<line x1="974.0" y1="503.1" x2="974.0" y2="510.4" stroke="#000" stroke-width="2.30" stroke-linecap="round" />
<ellipse cx="981.1" cy="490.0" rx="2.80" ry="2.20" fill="#000" transform="rotate(0 981.1 490.0)"/>
<polygon points="1001.8,519.1 1024.2,506.2 1044.1,517.8 1044.1,525.0 1021.7,537.9 1001.8,526.4" fill="#fff" stroke="#000" stroke-width="2.30" stroke-linejoin="round" />
<line x1="1021.7" y1="530.6" x2="1001.8" y2="519.1" stroke="#000" stroke-width="2.30" stroke-linecap="round" />
<line x1="1021.7" y1="530.6" x2="1044.1" y2="517.8" stroke="#000" stroke-width="2.30" stroke-linecap="round" />
<line x1="1021.7" y1="530.6" x2="1021.7" y2="537.9" stroke="#000" stroke-width="2.30" stroke-linecap="round" />
<ellipse cx="1028.8" cy="517.5" rx="2.80" ry="2.20" fill="#000" transform="rotate(0 1028.8 517.5)"/>
<polygon points="1049.5,546.7 1071.9,533.8 1091.8,545.3 1091.8,552.6 1069.4,565.5 1049.5,554.0" fill="#fff" stroke="#000" stroke-width="2.30" stroke-linejoin="round" />
<line x1="1069.4" y1="558.2" x2="1049.5" y2="546.7" stroke="#000" stroke-width="2.30" stroke-linecap="round" />
<line x1="1069.4" y1="558.2" x2="1091.8" y2="545.3" stroke="#000" stroke-width="2.30" stroke-linecap="round" />
<line x1="1069.4" y1="558.2" x2="1069.4" y2="565.5" stroke="#000" stroke-width="2.30" stroke-linecap="round" />
<ellipse cx="1076.5" cy="545.1" rx="2.80" ry="2.20" fill="#000" transform="rotate(0 1076.5 545.1)"/>
<polygon points="1097.2,574.2 1119.6,561.3 1139.5,572.8 1139.5,580.1 1117.2,593.0 1097.2,581.5" fill="#fff" stroke="#000" stroke-width="2.30" stroke-linejoin="round" />
<line x1="1117.2" y1="585.8" x2="1097.2" y2="574.2" stroke="#000" stroke-width="2.30" stroke-linecap="round" />
<line x1="1117.2" y1="585.8" x2="1139.5" y2="572.8" stroke="#000" stroke-width="2.30" stroke-linecap="round" />
<line x1="1117.2" y1="585.8" x2="1117.2" y2="593.0" stroke="#000" stroke-width="2.30" stroke-linecap="round" />
<ellipse cx="1124.3" cy="572.7" rx="2.80" ry="2.20" fill="#000" transform="rotate(0 1124.3 572.7)"/>
<polygon points="1145.0,601.8 1167.3,588.9 1187.2,600.4 1187.2,607.7 1164.9,620.6 1145.0,609.1" fill="#fff" stroke="#000" stroke-width="2.30" stroke-linejoin="round" />
<line x1="1164.9" y1="613.3" x2="1145.0" y2="601.8" stroke="#000" stroke-width="2.30" stroke-linecap="round" />
<line x1="1164.9" y1="613.3" x2="1187.2" y2="600.4" stroke="#000" stroke-width="2.30" stroke-linecap="round" />
<line x1="1164.9" y1="613.3" x2="1164.9" y2="620.6" stroke="#000" stroke-width="2.30" stroke-linecap="round" />
<ellipse cx="1172.0" cy="600.2" rx="2.80" ry="2.20" fill="#000" transform="rotate(0 1172.0 600.2)"/>
<polygon points="1192.7,629.3 1215.0,616.5 1234.9,628.0 1234.9,635.2 1212.6,648.1 1192.7,636.6" fill="#fff" stroke="#000" stroke-width="2.30" stroke-linejoin="round" />
<line x1="1212.6" y1="640.8" x2="1192.7" y2="629.3" stroke="#000" stroke-width="2.30" stroke-linecap="round" />
<line x1="1212.6" y1="640.8" x2="1234.9" y2="628.0" stroke="#000" stroke-width="2.30" stroke-linecap="round" />
<line x1="1212.6" y1="640.8" x2="1212.6" y2="648.1" stroke="#000" stroke-width="2.30" stroke-linecap="round" />
<ellipse cx="1219.7" cy="627.8" rx="2.80" ry="2.20" fill="#000" transform="rotate(0 1219.7 627.8)"/>
<polygon points="1240.4,656.9 1262.7,644.0 1282.7,655.5 1282.7,662.8 1260.3,675.7 1240.4,664.2" fill="#fff" stroke="#000" stroke-width="2.30" stroke-linejoin="round" />
<line x1="1260.3" y1="668.4" x2="1240.4" y2="656.9" stroke="#000" stroke-width="2.30" stroke-linecap="round" />
<line x1="1260.3" y1="668.4" x2="1282.7" y2="655.5" stroke="#000" stroke-width="2.30" stroke-linecap="round" />
<line x1="1260.3" y1="668.4" x2="1260.3" y2="675.7" stroke="#000" stroke-width="2.30" stroke-linecap="round" />
<ellipse cx="1267.4" cy="655.3" rx="2.80" ry="2.20" fill="#000" transform="rotate(0 1267.4 655.3)"/>
<polygon points="1288.1,684.5 1310.5,671.5 1330.4,683.0 1330.4,690.3 1308.0,703.2 1288.1,691.8" fill="#fff" stroke="#000" stroke-width="2.30" stroke-linejoin="round" />
<line x1="1308.0" y1="696.0" x2="1288.1" y2="684.5" stroke="#000" stroke-width="2.30" stroke-linecap="round" />
<line x1="1308.0" y1="696.0" x2="1330.4" y2="683.0" stroke="#000" stroke-width="2.30" stroke-linecap="round" />
<line x1="1308.0" y1="696.0" x2="1308.0" y2="703.2" stroke="#000" stroke-width="2.30" stroke-linecap="round" />
<ellipse cx="1315.1" cy="682.9" rx="2.80" ry="2.20" fill="#000" transform="rotate(0 1315.1 682.9)"/>
<polygon points="1335.8,712.0 1358.2,699.1 1378.1,710.6 1378.1,717.9 1355.8,730.8 1335.8,719.3" fill="#fff" stroke="#000" stroke-width="2.30" stroke-linejoin="round" />
<line x1="1355.8" y1="723.5" x2="1335.8" y2="712.0" stroke="#000" stroke-width="2.30" stroke-linecap="round" />
<line x1="1355.8" y1="723.5" x2="1378.1" y2="710.6" stroke="#000" stroke-width="2.30" stroke-linecap="round" />
<line x1="1355.8" y1="723.5" x2="1355.8" y2="730.8" stroke="#000" stroke-width="2.30" stroke-linecap="round" />
<ellipse cx="1362.9" cy="710.4" rx="2.80" ry="2.20" fill="#000" transform="rotate(0 1362.9 710.4)"/>
<polygon points="754.2,389.0 761.6,384.7 1362.6,731.8 1362.6,735.0 1355.2,739.3 754.2,392.3" fill="#fff" stroke="#000" stroke-width="2.30" stroke-linejoin="round" />
<line x1="1355.2" y1="736.0" x2="754.2" y2="389.0" stroke="#000" stroke-width="2.30" stroke-linecap="round" />
<line x1="1355.2" y1="736.0" x2="1362.6" y2="731.8" stroke="#000" stroke-width="2.30" stroke-linecap="round" />
<line x1="1355.2" y1="736.0" x2="1355.2" y2="739.3" stroke="#000" stroke-width="2.30" stroke-linecap="round" />
<polygon points="460.8,559.7 483.1,546.8 1100.6,903.3 1100.6,909.3 1078.3,922.2 460.8,565.7" fill="#fff" stroke="#000" stroke-width="2.30" stroke-linejoin="round" />
<line x1="1078.3" y1="916.2" x2="460.8" y2="559.7" stroke="#000" stroke-width="2.30" stroke-linecap="round" />
<line x1="1078.3" y1="916.2" x2="1100.6" y2="903.3" stroke="#000" stroke-width="2.30" stroke-linecap="round" />
<line x1="1078.3" y1="916.2" x2="1078.3" y2="922.2" stroke="#000" stroke-width="2.30" stroke-linecap="round" />
<polygon points="464.2,554.0 486.3,541.3 506.2,552.8 506.2,560.1 484.1,572.8 464.2,561.3" fill="#fff" stroke="#000" stroke-width="2.30" stroke-linejoin="round" />
<line x1="484.1" y1="565.5" x2="464.2" y2="554.0" stroke="#000" stroke-width="2.30" stroke-linecap="round" />
<line x1="484.1" y1="565.5" x2="506.2" y2="552.8" stroke="#000" stroke-width="2.30" stroke-linecap="round" />
<line x1="484.1" y1="565.5" x2="484.1" y2="572.8" stroke="#000" stroke-width="2.30" stroke-linecap="round" />
<polygon points="511.9,581.6 534.0,568.8 553.9,580.3 553.9,587.6 531.8,600.4 511.9,588.9" fill="#fff" stroke="#000" stroke-width="2.30" stroke-linejoin="round" />
<line x1="531.8" y1="593.1" x2="511.9" y2="581.6" stroke="#000" stroke-width="2.30" stroke-linecap="round" />
<line x1="531.8" y1="593.1" x2="553.9" y2="580.3" stroke="#000" stroke-width="2.30" stroke-linecap="round" />
<line x1="531.8" y1="593.1" x2="531.8" y2="600.4" stroke="#000" stroke-width="2.30" stroke-linecap="round" />
<polygon points="559.6,609.2 581.7,596.4 601.6,607.9 601.6,615.2 579.5,628.0 559.6,616.5" fill="#fff" stroke="#000" stroke-width="2.30" stroke-linejoin="round" />
<line x1="579.5" y1="620.7" x2="559.6" y2="609.2" stroke="#000" stroke-width="2.30" stroke-linecap="round" />
<line x1="579.5" y1="620.7" x2="601.6" y2="607.9" stroke="#000" stroke-width="2.30" stroke-linecap="round" />
<line x1="579.5" y1="620.7" x2="579.5" y2="628.0" stroke="#000" stroke-width="2.30" stroke-linecap="round" />
<polygon points="607.3,636.7 629.4,624.0 649.3,635.5 649.3,642.8 627.3,655.5 607.3,644.0" fill="#fff" stroke="#000" stroke-width="2.30" stroke-linejoin="round" />
<line x1="627.3" y1="648.2" x2="607.3" y2="636.7" stroke="#000" stroke-width="2.30" stroke-linecap="round" />
<line x1="627.3" y1="648.2" x2="649.3" y2="635.5" stroke="#000" stroke-width="2.30" stroke-linecap="round" />
<line x1="627.3" y1="648.2" x2="627.3" y2="655.5" stroke="#000" stroke-width="2.30" stroke-linecap="round" />
<polygon points="655.1,664.2 677.1,651.5 697.1,663.0 697.1,670.3 675.0,683.0 655.1,671.5" fill="#fff" stroke="#000" stroke-width="2.30" stroke-linejoin="round" />
<line x1="675.0" y1="675.8" x2="655.1" y2="664.2" stroke="#000" stroke-width="2.30" stroke-linecap="round" />
<line x1="675.0" y1="675.8" x2="697.1" y2="663.0" stroke="#000" stroke-width="2.30" stroke-linecap="round" />
<line x1="675.0" y1="675.8" x2="675.0" y2="683.0" stroke="#000" stroke-width="2.30" stroke-linecap="round" />
<polygon points="702.8,691.8 724.9,679.0 744.8,690.5 744.8,697.8 722.7,710.6 702.8,699.1" fill="#fff" stroke="#000" stroke-width="2.30" stroke-linejoin="round" />
<line x1="722.7" y1="703.3" x2="702.8" y2="691.8" stroke="#000" stroke-width="2.30" stroke-linecap="round" />
<line x1="722.7" y1="703.3" x2="744.8" y2="690.5" stroke="#000" stroke-width="2.30" stroke-linecap="round" />
<line x1="722.7" y1="703.3" x2="722.7" y2="710.6" stroke="#000" stroke-width="2.30" stroke-linecap="round" />
<polygon points="750.5,719.4 772.6,706.6 792.5,718.1 792.5,725.4 770.4,738.2 750.5,726.7" fill="#fff" stroke="#000" stroke-width="2.30" stroke-linejoin="round" />
<line x1="770.4" y1="730.9" x2="750.5" y2="719.4" stroke="#000" stroke-width="2.30" stroke-linecap="round" />
<line x1="770.4" y1="730.9" x2="792.5" y2="718.1" stroke="#000" stroke-width="2.30" stroke-linecap="round" />
<line x1="770.4" y1="730.9" x2="770.4" y2="738.2" stroke="#000" stroke-width="2.30" stroke-linecap="round" />
<polygon points="798.2,746.9 820.3,734.2 840.2,745.7 840.2,753.0 818.1,765.7 798.2,754.2" fill="#fff" stroke="#000" stroke-width="2.30" stroke-linejoin="round" />
<line x1="818.1" y1="758.4" x2="798.2" y2="746.9" stroke="#000" stroke-width="2.30" stroke-linecap="round" />
<line x1="818.1" y1="758.4" x2="840.2" y2="745.7" stroke="#000" stroke-width="2.30" stroke-linecap="round" />
<line x1="818.1" y1="758.4" x2="818.1" y2="765.7" stroke="#000" stroke-width="2.30" stroke-linecap="round" />
<polygon points="845.9,774.5 868.0,761.7 887.9,773.2 887.9,780.5 865.8,793.2 845.9,781.8" fill="#fff" stroke="#000" stroke-width="2.30" stroke-linejoin="round" />
<line x1="865.8" y1="786.0" x2="845.9" y2="774.5" stroke="#000" stroke-width="2.30" stroke-linecap="round" />
<line x1="865.8" y1="786.0" x2="887.9" y2="773.2" stroke="#000" stroke-width="2.30" stroke-linecap="round" />
<line x1="865.8" y1="786.0" x2="865.8" y2="793.2" stroke="#000" stroke-width="2.30" stroke-linecap="round" />
<polygon points="893.6,802.0 915.7,789.2 935.6,800.8 935.6,808.0 913.6,820.8 893.6,809.3" fill="#fff" stroke="#000" stroke-width="2.30" stroke-linejoin="round" />
<line x1="913.6" y1="813.5" x2="893.6" y2="802.0" stroke="#000" stroke-width="2.30" stroke-linecap="round" />
<line x1="913.6" y1="813.5" x2="935.6" y2="800.8" stroke="#000" stroke-width="2.30" stroke-linecap="round" />
<line x1="913.6" y1="813.5" x2="913.6" y2="820.8" stroke="#000" stroke-width="2.30" stroke-linecap="round" />
<polygon points="941.4,829.5 963.4,816.8 983.4,828.3 983.4,835.6 961.3,848.3 941.4,836.8" fill="#fff" stroke="#000" stroke-width="2.30" stroke-linejoin="round" />
<line x1="961.3" y1="841.0" x2="941.4" y2="829.5" stroke="#000" stroke-width="2.30" stroke-linecap="round" />
<line x1="961.3" y1="841.0" x2="983.4" y2="828.3" stroke="#000" stroke-width="2.30" stroke-linecap="round" />
<line x1="961.3" y1="841.0" x2="961.3" y2="848.3" stroke="#000" stroke-width="2.30" stroke-linecap="round" />
<polygon points="989.1,857.1 1011.2,844.4 1031.1,855.9 1031.1,863.2 1009.0,875.9 989.1,864.4" fill="#fff" stroke="#000" stroke-width="2.30" stroke-linejoin="round" />
<line x1="1009.0" y1="868.6" x2="989.1" y2="857.1" stroke="#000" stroke-width="2.30" stroke-linecap="round" />
<line x1="1009.0" y1="868.6" x2="1031.1" y2="855.9" stroke="#000" stroke-width="2.30" stroke-linecap="round" />
<line x1="1009.0" y1="868.6" x2="1009.0" y2="875.9" stroke="#000" stroke-width="2.30" stroke-linecap="round" />
<polygon points="1036.8,884.7 1058.9,871.9 1078.8,883.4 1078.8,890.7 1056.7,903.5 1036.8,892.0" fill="#fff" stroke="#000" stroke-width="2.30" stroke-linejoin="round" />
<line x1="1056.7" y1="896.2" x2="1036.8" y2="884.7" stroke="#000" stroke-width="2.30" stroke-linecap="round" />
<line x1="1056.7" y1="896.2" x2="1078.8" y2="883.4" stroke="#000" stroke-width="2.30" stroke-linecap="round" />
<line x1="1056.7" y1="896.2" x2="1056.7" y2="903.5" stroke="#000" stroke-width="2.30" stroke-linecap="round" />
<polygon points="488.3,542.5 495.3,538.5 1096.3,885.5 1096.3,888.8 1089.4,892.8 488.3,545.8" fill="#fff" stroke="#000" stroke-width="2.30" stroke-linejoin="round" />
<line x1="1089.4" y1="889.5" x2="488.3" y2="542.5" stroke="#000" stroke-width="2.30" stroke-linecap="round" />
<line x1="1089.4" y1="889.5" x2="1096.3" y2="885.5" stroke="#000" stroke-width="2.30" stroke-linecap="round" />
<line x1="1089.4" y1="889.5" x2="1089.4" y2="892.8" stroke="#000" stroke-width="2.30" stroke-linecap="round" />
<polygon points="1396.5,591.5 1417.6,579.3 1431.4,587.3 1431.4,1208.3 1410.3,1220.5 1396.5,1212.5" fill="#fff" stroke="#000" stroke-width="2.30" stroke-linejoin="round" />
<line x1="1410.3" y1="599.5" x2="1396.5" y2="591.5" stroke="#000" stroke-width="2.30" stroke-linecap="round" />
<line x1="1410.3" y1="599.5" x2="1431.4" y2="587.3" stroke="#000" stroke-width="2.30" stroke-linecap="round" />
<line x1="1410.3" y1="599.5" x2="1410.3" y2="1220.5" stroke="#000" stroke-width="2.30" stroke-linecap="round" />
<polyline points="1396.5,902.0 1410.3,910.0 1431.4,897.8" fill="none" stroke="#000" stroke-width="2.30" stroke-linejoin="round" stroke-linecap="round" />
<polygon points="1092.3,1153.1 1405.1,972.5 1405.1,1081.4 1092.3,1262.0" fill="#fff" stroke="#000" stroke-width="2.30" stroke-linejoin="round" />
<polygon points="1092.3,1153.1 1107.3,1144.4 1109.0,1145.4 1109.0,1254.3 1094.0,1263.0 1092.3,1262.0" fill="#fff" stroke="#000" stroke-width="2.30" stroke-linejoin="round" />
<line x1="1094.0" y1="1154.1" x2="1092.3" y2="1153.1" stroke="#000" stroke-width="2.30" stroke-linecap="round" />
<line x1="1094.0" y1="1154.1" x2="1109.0" y2="1145.4" stroke="#000" stroke-width="2.30" stroke-linecap="round" />
<line x1="1094.0" y1="1154.1" x2="1094.0" y2="1263.0" stroke="#000" stroke-width="2.30" stroke-linecap="round" />
<polygon points="1388.4,982.1 1405.1,972.5 1406.8,973.5 1406.8,1082.4 1390.1,1092.0 1388.4,1091.0" fill="#fff" stroke="#000" stroke-width="2.30" stroke-linejoin="round" />
<line x1="1390.1" y1="983.1" x2="1388.4" y2="982.1" stroke="#000" stroke-width="2.30" stroke-linecap="round" />
<line x1="1390.1" y1="983.1" x2="1406.8" y2="973.5" stroke="#000" stroke-width="2.30" stroke-linecap="round" />
<line x1="1390.1" y1="983.1" x2="1390.1" y2="1092.0" stroke="#000" stroke-width="2.30" stroke-linecap="round" />
<polygon points="1083.6,1131.1 1396.5,950.5 1406.8,956.5 1406.8,973.5 1094.0,1154.1 1083.6,1148.1" fill="#fff" stroke="#000" stroke-width="2.30" stroke-linejoin="round" />
<line x1="1094.0" y1="1137.1" x2="1083.6" y2="1131.1" stroke="#000" stroke-width="2.30" stroke-linecap="round" />
<line x1="1094.0" y1="1137.1" x2="1406.8" y2="956.5" stroke="#000" stroke-width="2.30" stroke-linecap="round" />
<line x1="1094.0" y1="1137.1" x2="1094.0" y2="1154.1" stroke="#000" stroke-width="2.30" stroke-linecap="round" />
<polygon points="1083.6,1257.0 1396.5,1076.4 1406.8,1082.4 1406.8,1104.7 1094.0,1285.3 1083.6,1279.3" fill="#fff" stroke="#000" stroke-width="2.30" stroke-linejoin="round" />
<line x1="1094.0" y1="1263.0" x2="1083.6" y2="1257.0" stroke="#000" stroke-width="2.30" stroke-linecap="round" />
<line x1="1094.0" y1="1263.0" x2="1406.8" y2="1082.4" stroke="#000" stroke-width="2.30" stroke-linecap="round" />
<line x1="1094.0" y1="1263.0" x2="1094.0" y2="1285.3" stroke="#000" stroke-width="2.30" stroke-linecap="round" />
<line x1="1146.5" y1="1151.4" x2="1350.0" y2="1031.6" stroke="#000" stroke-width="5.6" stroke-linecap="round"/>
<line x1="1147.4" y1="1149.9" x2="1348.3" y2="1031.6" stroke="#fff" stroke-width="1.4" stroke-linecap="round"/>
<polygon points="1092.3,796.6 1405.1,616.0 1405.1,725.7 1092.3,906.3" fill="#fff" stroke="#000" stroke-width="2.30" stroke-linejoin="round" />
<polygon points="1092.3,796.6 1107.3,787.9 1109.0,788.9 1109.0,898.6 1094.0,907.3 1092.3,906.3" fill="#fff" stroke="#000" stroke-width="2.30" stroke-linejoin="round" />
<line x1="1094.0" y1="797.6" x2="1092.3" y2="796.6" stroke="#000" stroke-width="2.30" stroke-linecap="round" />
<line x1="1094.0" y1="797.6" x2="1109.0" y2="788.9" stroke="#000" stroke-width="2.30" stroke-linecap="round" />
<line x1="1094.0" y1="797.6" x2="1094.0" y2="907.3" stroke="#000" stroke-width="2.30" stroke-linecap="round" />
<polygon points="1388.4,625.6 1405.1,616.0 1406.8,617.0 1406.8,726.7 1390.1,736.3 1388.4,735.3" fill="#fff" stroke="#000" stroke-width="2.30" stroke-linejoin="round" />
<line x1="1390.1" y1="626.6" x2="1388.4" y2="625.6" stroke="#000" stroke-width="2.30" stroke-linecap="round" />
<line x1="1390.1" y1="626.6" x2="1406.8" y2="617.0" stroke="#000" stroke-width="2.30" stroke-linecap="round" />
<line x1="1390.1" y1="626.6" x2="1390.1" y2="736.3" stroke="#000" stroke-width="2.30" stroke-linecap="round" />
<polygon points="1083.6,774.1 1396.5,593.5 1406.8,599.5 1406.8,617.0 1094.0,797.6 1083.6,791.6" fill="#fff" stroke="#000" stroke-width="2.30" stroke-linejoin="round" />
<line x1="1094.0" y1="780.1" x2="1083.6" y2="774.1" stroke="#000" stroke-width="2.30" stroke-linecap="round" />
<line x1="1094.0" y1="780.1" x2="1406.8" y2="599.5" stroke="#000" stroke-width="2.30" stroke-linecap="round" />
<line x1="1094.0" y1="780.1" x2="1094.0" y2="797.6" stroke="#000" stroke-width="2.30" stroke-linecap="round" />
<polygon points="1083.6,901.3 1396.5,720.7 1406.8,726.7 1406.8,749.2 1094.0,929.8 1083.6,923.8" fill="#fff" stroke="#000" stroke-width="2.30" stroke-linejoin="round" />
<line x1="1094.0" y1="907.3" x2="1083.6" y2="901.3" stroke="#000" stroke-width="2.30" stroke-linecap="round" />
<line x1="1094.0" y1="907.3" x2="1406.8" y2="726.7" stroke="#000" stroke-width="2.30" stroke-linecap="round" />
<line x1="1094.0" y1="907.3" x2="1094.0" y2="929.8" stroke="#000" stroke-width="2.30" stroke-linecap="round" />
<line x1="1147.0" y1="795.6" x2="1350.0" y2="676.0" stroke="#000" stroke-width="5.6" stroke-linecap="round"/>
<line x1="1147.9" y1="794.1" x2="1348.3" y2="676.0" stroke="#fff" stroke-width="1.4" stroke-linecap="round"/>
<polygon points="410.4,407.8 431.5,395.6 445.4,403.6 445.4,1024.6 424.3,1036.8 410.4,1028.8" fill="#fff" stroke="#000" stroke-width="2.30" stroke-linejoin="round" />
<line x1="424.3" y1="415.8" x2="410.4" y2="407.8" stroke="#000" stroke-width="2.30" stroke-linecap="round" />
<line x1="424.3" y1="415.8" x2="445.4" y2="403.6" stroke="#000" stroke-width="2.30" stroke-linecap="round" />
<line x1="424.3" y1="415.8" x2="424.3" y2="1036.8" stroke="#000" stroke-width="2.30" stroke-linecap="round" />
<polyline points="410.4,718.3 424.3,726.3 445.4,714.1" fill="none" stroke="#000" stroke-width="2.30" stroke-linejoin="round" stroke-linecap="round" />
<polygon points="431.8,882.5 440.0,877.7 1078.3,1246.2 1078.3,1280.2 1070.1,1284.9 431.8,916.5" fill="#fff" stroke="#000" stroke-width="2.30" stroke-linejoin="round" />
<line x1="1070.1" y1="1250.9" x2="431.8" y2="882.5" stroke="#000" stroke-width="2.30" stroke-linecap="round" />
<line x1="1070.1" y1="1250.9" x2="1078.3" y2="1246.2" stroke="#000" stroke-width="2.30" stroke-linecap="round" />
<line x1="1070.1" y1="1250.9" x2="1070.1" y2="1284.9" stroke="#000" stroke-width="2.30" stroke-linecap="round" />
<polygon points="430.9,526.7 438.1,522.5 1076.4,891.0 1076.4,927.3 1069.2,931.4 430.9,563.0" fill="#fff" stroke="#000" stroke-width="2.30" stroke-linejoin="round" />
<line x1="1069.2" y1="895.1" x2="430.9" y2="526.7" stroke="#000" stroke-width="2.30" stroke-linecap="round" />
<line x1="1069.2" y1="895.1" x2="1076.4" y2="891.0" stroke="#000" stroke-width="2.30" stroke-linecap="round" />
<line x1="1069.2" y1="895.1" x2="1069.2" y2="931.4" stroke="#000" stroke-width="2.30" stroke-linecap="round" />
<polygon points="430.9,418.0 438.1,413.8 955.1,712.3 955.1,737.3 947.9,741.4 430.9,443.0" fill="#fff" stroke="#000" stroke-width="2.30" stroke-linejoin="round" />
<line x1="947.9" y1="716.4" x2="430.9" y2="418.0" stroke="#000" stroke-width="2.30" stroke-linecap="round" />
<line x1="947.9" y1="716.4" x2="955.1" y2="712.3" stroke="#000" stroke-width="2.30" stroke-linecap="round" />
<line x1="947.9" y1="716.4" x2="947.9" y2="741.4" stroke="#000" stroke-width="2.30" stroke-linecap="round" />
<polygon points="430.9,472.2 438.1,468.1 955.1,766.6 955.1,792.0 947.9,796.1 430.9,497.7" fill="#fff" stroke="#000" stroke-width="2.30" stroke-linejoin="round" />
<line x1="947.9" y1="770.7" x2="430.9" y2="472.2" stroke="#000" stroke-width="2.30" stroke-linecap="round" />
<line x1="947.9" y1="770.7" x2="955.1" y2="766.6" stroke="#000" stroke-width="2.30" stroke-linecap="round" />
<line x1="947.9" y1="770.7" x2="947.9" y2="796.1" stroke="#000" stroke-width="2.30" stroke-linecap="round" />
<polygon points="660.8,559.9 667.6,556.0 689.3,568.5 689.3,708.8 682.5,712.8 660.8,700.2" fill="#fff" stroke="#000" stroke-width="2.30" stroke-linejoin="round" />
<line x1="682.5" y1="572.5" x2="660.8" y2="559.9" stroke="#000" stroke-width="2.30" stroke-linecap="round" />
<line x1="682.5" y1="572.5" x2="689.3" y2="568.5" stroke="#000" stroke-width="2.30" stroke-linecap="round" />
<line x1="682.5" y1="572.5" x2="682.5" y2="712.8" stroke="#000" stroke-width="2.30" stroke-linecap="round" />
<polygon points="919.5,707.1 926.4,703.1 948.1,715.6 948.1,861.5 941.3,865.5 919.5,853.0" fill="#fff" stroke="#000" stroke-width="2.30" stroke-linejoin="round" />
<line x1="941.3" y1="719.6" x2="919.5" y2="707.1" stroke="#000" stroke-width="2.30" stroke-linecap="round" />
<line x1="941.3" y1="719.6" x2="948.1" y2="715.6" stroke="#000" stroke-width="2.30" stroke-linecap="round" />
<line x1="941.3" y1="719.6" x2="941.3" y2="865.5" stroke="#000" stroke-width="2.30" stroke-linecap="round" />
<polygon points="1062.5,784.3 1083.6,772.1 1097.5,780.1 1097.5,1401.1 1076.4,1413.3 1062.5,1405.3" fill="#fff" stroke="#000" stroke-width="2.30" stroke-linejoin="round" />
<line x1="1076.4" y1="792.3" x2="1062.5" y2="784.3" stroke="#000" stroke-width="2.30" stroke-linecap="round" />
<line x1="1076.4" y1="792.3" x2="1097.5" y2="780.1" stroke="#000" stroke-width="2.30" stroke-linecap="round" />
<line x1="1076.4" y1="792.3" x2="1076.4" y2="1413.3" stroke="#000" stroke-width="2.30" stroke-linecap="round" />
<polyline points="1062.5,1094.8 1076.4,1102.8 1097.5,1090.6" fill="none" stroke="#000" stroke-width="2.30" stroke-linejoin="round" stroke-linecap="round" />
<polygon points="939.5,836.6 949.4,828.2 955.9,830.0 957.0,867.0 722.4,1473.0 696.3,1486.4 688.8,1484.3" fill="#fff" stroke="#000" stroke-width="2.30" stroke-linejoin="round" />
<line x1="946.7" y1="839.4" x2="696.3" y2="1486.4" stroke="#000" stroke-width="2.30" stroke-linecap="round" />
<polyline points="939.5,836.6 946.7,839.4 955.9,830.0" fill="none" stroke="#000" stroke-width="2.30" stroke-linejoin="round" stroke-linecap="round" />
<polygon points="914.0,964.9 1005.0,1014.6 997.8,1040.5 896.4,983.6 896.4,977.4" fill="#fff" stroke="#000" stroke-width="2.30" stroke-linejoin="round" />
<line x1="896.4" y1="977.4" x2="997.8" y2="1034.3" stroke="#000" stroke-width="2.30" stroke-linecap="round" />
<polygon points="864.3,1088.1 957.4,1136.8 955.4,1161.0 848.7,1104.5 848.7,1098.5" fill="#fff" stroke="#000" stroke-width="2.30" stroke-linejoin="round" />
<line x1="848.7" y1="1098.5" x2="955.4" y2="1155.0" stroke="#000" stroke-width="2.30" stroke-linecap="round" />
<polygon points="811.1,1234.9 901.2,1285.6 894.0,1310.7 790.4,1251.7 790.4,1245.2" fill="#fff" stroke="#000" stroke-width="2.30" stroke-linejoin="round" />
<line x1="790.4" y1="1245.2" x2="894.0" y2="1304.2" stroke="#000" stroke-width="2.30" stroke-linecap="round" />
<polygon points="754.2,1381.9 844.3,1432.6 836.0,1457.2 733.5,1399.2 733.5,1392.2" fill="#fff" stroke="#000" stroke-width="2.30" stroke-linejoin="round" />
<line x1="733.5" y1="1392.2" x2="836.0" y2="1450.2" stroke="#000" stroke-width="2.30" stroke-linecap="round" />
<polygon points="1052.8,900.9 1058.4,893.4 1064.0,896.2 1064.0,905.0 835.0,1536.0 808.0,1550.6 800.8,1548.5" fill="#fff" stroke="#000" stroke-width="2.30" stroke-linejoin="round" />
<line x1="1058.4" y1="903.7" x2="808.0" y2="1550.6" stroke="#000" stroke-width="2.30" stroke-linecap="round" />
<polyline points="1052.8,900.9 1058.4,903.7 1064.0,896.2" fill="none" stroke="#000" stroke-width="2.30" stroke-linejoin="round" stroke-linecap="round" />
<line x1="957.5" y1="831.5" x2="1052.0" y2="886.0" stroke="#000" stroke-width="2.30" stroke-linecap="round" />
<ellipse cx="1021.8" cy="1034.6" rx="2.74" ry="3.80" fill="#000" transform="rotate(-25 1021.8 1034.6)"/>
<ellipse cx="974.0" cy="1159.2" rx="2.74" ry="3.80" fill="#000" transform="rotate(-25 974.0 1159.2)"/>
<ellipse cx="916.5" cy="1306.7" rx="2.74" ry="3.80" fill="#000" transform="rotate(-25 916.5 1306.7)"/>
<ellipse cx="861.0" cy="1452.2" rx="2.74" ry="3.80" fill="#000" transform="rotate(-25 861.0 1452.2)"/>
<ellipse cx="416.9" cy="421.0" rx="2.59" ry="3.60" fill="#000" transform="rotate(-25 416.9 421.0)"/>
<ellipse cx="416.9" cy="549.8" rx="2.59" ry="3.60" fill="#000" transform="rotate(-25 416.9 549.8)"/>
<ellipse cx="416.9" cy="775.2" rx="2.59" ry="3.60" fill="#000" transform="rotate(-25 416.9 775.2)"/>
<ellipse cx="416.9" cy="904.7" rx="2.59" ry="3.60" fill="#000" transform="rotate(-25 416.9 904.7)"/>
<ellipse cx="1070.4" cy="798.2" rx="2.59" ry="3.60" fill="#000" transform="rotate(-25 1070.4 798.2)"/>
<ellipse cx="1070.4" cy="926.4" rx="2.59" ry="3.60" fill="#000" transform="rotate(-25 1070.4 926.4)"/>
<ellipse cx="1070.4" cy="1152.6" rx="2.59" ry="3.60" fill="#000" transform="rotate(-25 1070.4 1152.6)"/>
<ellipse cx="1070.4" cy="1263.6" rx="2.59" ry="3.60" fill="#000" transform="rotate(-25 1070.4 1263.6)"/>
<ellipse cx="1087.9" cy="909.1" rx="2.59" ry="3.60" fill="#000" transform="rotate(-25 1087.9 909.1)"/>
<ellipse cx="1087.9" cy="928.3" rx="2.59" ry="3.60" fill="#000" transform="rotate(-25 1087.9 928.3)"/>
<ellipse cx="1087.9" cy="1246.0" rx="2.59" ry="3.60" fill="#000" transform="rotate(-25 1087.9 1246.0)"/>
<ellipse cx="1087.9" cy="1264.2" rx="2.59" ry="3.60" fill="#000" transform="rotate(-25 1087.9 1264.2)"/>
<ellipse cx="1420.3" cy="612.0" rx="2.59" ry="3.60" fill="#000" transform="rotate(-25 1420.3 612.0)"/>
<ellipse cx="1420.3" cy="668.1" rx="2.59" ry="3.60" fill="#000" transform="rotate(-25 1420.3 668.1)"/>
<ellipse cx="1420.3" cy="717.9" rx="2.59" ry="3.60" fill="#000" transform="rotate(-25 1420.3 717.9)"/>
<ellipse cx="1420.3" cy="736.4" rx="2.59" ry="3.60" fill="#000" transform="rotate(-25 1420.3 736.4)"/>
<ellipse cx="1420.3" cy="1072.8" rx="2.59" ry="3.60" fill="#000" transform="rotate(-25 1420.3 1072.8)"/>
<ellipse cx="1420.3" cy="1091.3" rx="2.59" ry="3.60" fill="#000" transform="rotate(-25 1420.3 1091.3)"/>
<ellipse cx="448.8" cy="405.0" rx="2.16" ry="3.00" fill="#000" transform="rotate(-25 448.8 405.0)"/>
<ellipse cx="450.5" cy="760.0" rx="2.16" ry="3.00" fill="#000" transform="rotate(-25 450.5 760.0)"/>
<ellipse cx="744.7" cy="236.0" rx="2.16" ry="3.00" fill="#000" transform="rotate(-25 744.7 236.0)"/>
<ellipse cx="744.7" cy="365.0" rx="2.16" ry="3.00" fill="#000" transform="rotate(-25 744.7 365.0)"/>
<ellipse cx="771.8" cy="242.8" rx="2.16" ry="3.00" fill="#000" transform="rotate(-25 771.8 242.8)"/>
<ellipse cx="771.8" cy="298.0" rx="2.16" ry="3.00" fill="#000" transform="rotate(-25 771.8 298.0)"/>
<ellipse cx="771.8" cy="347.5" rx="2.16" ry="3.00" fill="#000" transform="rotate(-25 771.8 347.5)"/>
<ellipse cx="771.8" cy="366.5" rx="2.16" ry="3.00" fill="#000" transform="rotate(-25 771.8 366.5)"/>
<ellipse cx="1087.1" cy="417.3" rx="2.16" ry="3.00" fill="#000" transform="rotate(-25 1087.1 417.3)"/>
<ellipse cx="1079.7" cy="427.8" rx="2.16" ry="3.00" fill="#000" transform="rotate(-25 1079.7 427.8)"/>
<ellipse cx="1087.1" cy="472.5" rx="2.16" ry="3.00" fill="#000" transform="rotate(-25 1087.1 472.5)"/>
<ellipse cx="1079.7" cy="483.1" rx="2.16" ry="3.00" fill="#000" transform="rotate(-25 1079.7 483.1)"/>
<ellipse cx="1083.4" cy="524.7" rx="2.16" ry="3.00" fill="#000" transform="rotate(-25 1083.4 524.7)"/>
<line x1="410.2" y1="1029.0" x2="410.2" y2="1723.0" stroke="#000" stroke-width="1.80" stroke-dasharray="15 7"/>
<line x1="423.8" y1="1036.0" x2="423.8" y2="1677.0" stroke="#000" stroke-width="1.80" stroke-dasharray="15 7"/>
<line x1="1063.6" y1="1406.0" x2="1063.6" y2="1677.0" stroke="#000" stroke-width="1.80" stroke-dasharray="15 7"/>
<line x1="1077.0" y1="1413.0" x2="1077.0" y2="1723.0" stroke="#000" stroke-width="1.80" stroke-dasharray="15 7"/>
<line x1="1098.6" y1="1402.0" x2="1098.6" y2="1677.0" stroke="#000" stroke-width="1.80" stroke-dasharray="15 7"/>
<line x1="1410.0" y1="1222.0" x2="1410.0" y2="1677.0" stroke="#000" stroke-width="1.80" stroke-dasharray="15 7"/>
<line x1="1432.0" y1="1212.0" x2="1432.0" y2="1723.0" stroke="#000" stroke-width="1.80" stroke-dasharray="15 7"/>
<line x1="688.9" y1="1485.0" x2="688.9" y2="1636.6" stroke="#000" stroke-width="1.80" stroke-dasharray="15 7"/>
<line x1="696.2" y1="1487.0" x2="696.2" y2="1595.5" stroke="#000" stroke-width="1.80" stroke-dasharray="15 7"/>
<line x1="800.2" y1="1549.0" x2="800.2" y2="1595.5" stroke="#000" stroke-width="1.80" stroke-dasharray="15 7"/>
<line x1="807.1" y1="1551.0" x2="807.1" y2="1636.5" stroke="#000" stroke-width="1.80" stroke-dasharray="15 7"/>
<line x1="834.4" y1="1537.0" x2="834.4" y2="1564.4" stroke="#000" stroke-width="1.80" stroke-dasharray="15 7"/>
<line x1="421.6" y1="1723.0" x2="709.6" y2="1723.0" stroke="#000" stroke-width="1.80" stroke-linecap="round" />
<line x1="804.0" y1="1723.0" x2="1065.6" y2="1723.0" stroke="#000" stroke-width="1.80" stroke-linecap="round" />
<polygon points="410.2,1723.0 429.2,1713.0 429.2,1733.0" fill="#000" stroke="#000" stroke-width="1" stroke-linejoin="round"/>
<polygon points="1077.0,1723.0 1058.0,1733.0 1058.0,1713.0" fill="#000" stroke="#000" stroke-width="1" stroke-linejoin="round"/>
<rect x="712.8" y="1711.6" width="86.8" height="23.4" fill="#fff"/>
<text x="714.8" y="1733.0" font-family="Liberation Sans, sans-serif" font-weight="bold" font-size="29.0" textLength="82.8" lengthAdjust="spacingAndGlyphs">79.25"</text>
<line x1="435.2" y1="1676.8" x2="709.6" y2="1676.8" stroke="#000" stroke-width="1.80" stroke-linecap="round" />
<line x1="804.0" y1="1676.8" x2="1052.9" y2="1676.8" stroke="#000" stroke-width="1.80" stroke-linecap="round" />
<polygon points="423.8,1676.8 442.8,1666.8 442.8,1686.8" fill="#000" stroke="#000" stroke-width="1" stroke-linejoin="round"/>
<polygon points="1064.3,1676.8 1045.3,1686.8 1045.3,1666.8" fill="#000" stroke="#000" stroke-width="1" stroke-linejoin="round"/>
<rect x="714.6" y="1664.6" width="85.0" height="23.4" fill="#fff"/>
<text x="716.6" y="1686.0" font-family="Liberation Sans, sans-serif" font-weight="bold" font-size="29.0" textLength="81.0" lengthAdjust="spacingAndGlyphs">76.00"</text>
<line x1="1089.4" y1="1723.2" x2="1196.5" y2="1723.2" stroke="#000" stroke-width="1.80" stroke-linecap="round" />
<line x1="1304.0" y1="1723.2" x2="1420.8" y2="1723.2" stroke="#000" stroke-width="1.80" stroke-linecap="round" />
<polygon points="1078.0,1723.2 1097.0,1713.2 1097.0,1733.2" fill="#000" stroke="#000" stroke-width="1" stroke-linejoin="round"/>
<polygon points="1432.2,1723.2 1413.2,1733.2 1413.2,1713.2" fill="#000" stroke="#000" stroke-width="1" stroke-linejoin="round"/>
<rect x="1202.4" y="1713.1" width="86.6" height="23.4" fill="#fff"/>
<text x="1204.4" y="1734.5" font-family="Liberation Sans, sans-serif" font-weight="bold" font-size="29.0" textLength="82.6" lengthAdjust="spacingAndGlyphs">42.00"</text>
<line x1="1108.8" y1="1676.8" x2="1201.6" y2="1676.8" stroke="#000" stroke-width="1.80" stroke-linecap="round" />
<line x1="1302.4" y1="1676.8" x2="1398.6" y2="1676.8" stroke="#000" stroke-width="1.80" stroke-linecap="round" />
<polygon points="1097.4,1676.8 1116.4,1666.8 1116.4,1686.8" fill="#000" stroke="#000" stroke-width="1" stroke-linejoin="round"/>
<polygon points="1410.0,1676.8 1391.0,1686.8 1391.0,1666.8" fill="#000" stroke="#000" stroke-width="1" stroke-linejoin="round"/>
<rect x="1206.5" y="1664.1" width="86.0" height="23.4" fill="#fff"/>
<text x="1208.5" y="1685.5" font-family="Liberation Sans, sans-serif" font-weight="bold" font-size="29.0" textLength="82.0" lengthAdjust="spacingAndGlyphs">37.00"</text>
<line x1="817.8" y1="1636.5" x2="1193.0" y2="1636.5" stroke="#000" stroke-width="1.80" stroke-linecap="round" />
<line x1="1288.8" y1="1636.5" x2="1420.8" y2="1636.5" stroke="#000" stroke-width="1.80" stroke-linecap="round" />
<polygon points="806.4,1636.5 825.4,1626.5 825.4,1646.5" fill="#000" stroke="#000" stroke-width="1" stroke-linejoin="round"/>
<polygon points="1432.2,1636.5 1413.2,1646.5 1413.2,1626.5" fill="#000" stroke="#000" stroke-width="1" stroke-linejoin="round"/>
<rect x="1198.0" y="1624.3" width="87.6" height="23.4" fill="#fff"/>
<text x="1200.0" y="1645.7" font-family="Liberation Sans, sans-serif" font-weight="bold" font-size="29.0" textLength="83.6" lengthAdjust="spacingAndGlyphs">72.25"</text>
<line x1="699.0" y1="1636.6" x2="795.3" y2="1636.6" stroke="#000" stroke-width="1.80" stroke-linecap="round" />
<polygon points="687.6,1636.6 706.6,1626.6 706.6,1646.6" fill="#000" stroke="#000" stroke-width="1" stroke-linejoin="round"/>
<polygon points="806.7,1636.6 787.7,1646.6 787.7,1626.6" fill="#000" stroke="#000" stroke-width="1" stroke-linejoin="round"/>
<rect x="711.5" y="1610.0" width="84.2" height="23.4" fill="#fff"/>
<text x="713.5" y="1631.4" font-family="Liberation Sans, sans-serif" font-weight="bold" font-size="29.0" textLength="80.2" lengthAdjust="spacingAndGlyphs">14.25"</text>
<line x1="706.8" y1="1595.5" x2="788.8" y2="1595.5" stroke="#000" stroke-width="1.80" stroke-linecap="round" />
<polygon points="695.4,1595.5 714.4,1585.5 714.4,1605.5" fill="#000" stroke="#000" stroke-width="1" stroke-linejoin="round"/>
<polygon points="800.2,1595.5 781.2,1605.5 781.2,1585.5" fill="#000" stroke="#000" stroke-width="1" stroke-linejoin="round"/>
<rect x="711.5" y="1566.0" width="84.2" height="23.4" fill="#fff"/>
<text x="713.5" y="1587.4" font-family="Liberation Sans, sans-serif" font-weight="bold" font-size="29.0" textLength="80.2" lengthAdjust="spacingAndGlyphs">12.50"</text>
<line x1="817.8" y1="1595.1" x2="1066.6" y2="1595.1" stroke="#000" stroke-width="1.80" stroke-linecap="round" />
<polygon points="806.4,1595.1 825.4,1585.1 825.4,1605.1" fill="#000" stroke="#000" stroke-width="1" stroke-linejoin="round"/>
<polygon points="1078.0,1595.1 1059.0,1605.1 1059.0,1585.1" fill="#000" stroke="#000" stroke-width="1" stroke-linejoin="round"/>
<rect x="913.7" y="1568.6" width="86.0" height="23.4" fill="#fff"/>
<text x="915.7" y="1590.0" font-family="Liberation Sans, sans-serif" font-weight="bold" font-size="29.0" textLength="82.0" lengthAdjust="spacingAndGlyphs">30.25"</text>
<line x1="845.1" y1="1564.4" x2="1066.6" y2="1564.4" stroke="#000" stroke-width="1.80" stroke-linecap="round" />
<polygon points="833.7,1564.4 852.7,1554.4 852.7,1574.4" fill="#000" stroke="#000" stroke-width="1" stroke-linejoin="round"/>
<polygon points="1078.0,1564.4 1059.0,1574.4 1059.0,1554.4" fill="#000" stroke="#000" stroke-width="1" stroke-linejoin="round"/>
<rect x="913.7" y="1533.8" width="86.0" height="23.4" fill="#fff"/>
<text x="915.7" y="1555.2" font-family="Liberation Sans, sans-serif" font-weight="bold" font-size="29.0" textLength="82.0" lengthAdjust="spacingAndGlyphs">27.25"</text>
<line x1="1442.4" y1="596.0" x2="1442.4" y2="1217.0" stroke="#000" stroke-width="1.80" stroke-linecap="round" />
<polygon points="1442.4,584.6 1452.4,603.6 1432.4,603.6" fill="#000" stroke="#000" stroke-width="1" stroke-linejoin="round"/>
<polygon points="1442.4,1228.4 1432.4,1209.4 1452.4,1209.4" fill="#000" stroke="#000" stroke-width="1" stroke-linejoin="round"/>
<rect x="1452.7" y="892.3" width="85.0" height="23.4" fill="#fff"/>
<text x="1454.7" y="913.7" font-family="Liberation Sans, sans-serif" font-weight="bold" font-size="29.0" textLength="81.0" lengthAdjust="spacingAndGlyphs">64.00"</text>
<line x1="1354.4" y1="793.1" x2="1354.4" y2="963.9" stroke="#000" stroke-width="1.80" stroke-linecap="round" />
<polygon points="1354.4,781.7 1364.4,800.7 1344.4,800.7" fill="#000" stroke="#000" stroke-width="1" stroke-linejoin="round"/>
<polygon points="1354.4,975.3 1344.4,956.3 1364.4,956.3" fill="#000" stroke="#000" stroke-width="1" stroke-linejoin="round"/>
<rect x="1266.2" y="880.0" width="88.4" height="23.4" fill="#fff"/>
<text x="1268.2" y="901.4" font-family="Liberation Sans, sans-serif" font-weight="bold" font-size="29.0" textLength="84.4" lengthAdjust="spacingAndGlyphs">20.75"</text>
<line x1="1382.0" y1="1130.0" x2="1382.0" y2="1226.3" stroke="#000" stroke-width="1.80" stroke-linecap="round" />
<polygon points="1382.0,1118.6 1392.0,1137.6 1372.0,1137.6" fill="#000" stroke="#000" stroke-width="1" stroke-linejoin="round"/>
<polygon points="1382.0,1237.7 1372.0,1218.7 1392.0,1218.7" fill="#000" stroke="#000" stroke-width="1" stroke-linejoin="round"/>
<rect x="1295.1" y="1177.5" width="84.2" height="23.4" fill="#fff"/>
<text x="1297.1" y="1198.9" font-family="Liberation Sans, sans-serif" font-weight="bold" font-size="29.0" textLength="80.2" lengthAdjust="spacingAndGlyphs">12.00"</text>
<line x1="844.5" y1="284.5" x2="844.5" y2="390.7" stroke="#000" stroke-width="1.80" stroke-linecap="round" />
<polygon points="844.5,273.1 854.5,292.1 834.5,292.1" fill="#000" stroke="#000" stroke-width="1" stroke-linejoin="round"/>
<polygon points="844.5,402.1 834.5,383.1 854.5,383.1" fill="#000" stroke="#000" stroke-width="1" stroke-linejoin="round"/>
<rect x="862.8" y="249.3" width="84.1" height="23.4" fill="#fff"/>
<text x="864.8" y="270.7" font-family="Liberation Sans, sans-serif" font-weight="bold" font-size="29.0" textLength="80.1" lengthAdjust="spacingAndGlyphs">13.50"</text>
<line x1="486.5" y1="607.7" x2="486.5" y2="897.8" stroke="#000" stroke-width="1.80" stroke-linecap="round" />
<polygon points="486.5,596.3 496.5,615.3 476.5,615.3" fill="#000" stroke="#000" stroke-width="1" stroke-linejoin="round"/>
<polygon points="486.5,909.2 476.5,890.2 496.5,890.2" fill="#000" stroke="#000" stroke-width="1" stroke-linejoin="round"/>
<rect x="488.0" y="645.8" width="85.5" height="23.4" fill="#fff"/>
<text x="490.0" y="667.2" font-family="Liberation Sans, sans-serif" font-weight="bold" font-size="29.0" textLength="81.5" lengthAdjust="spacingAndGlyphs">33.00"</text>
<line x1="1044.8" y1="1285.4" x2="1044.8" y2="1385.3" stroke="#000" stroke-width="1.80" stroke-linecap="round" />
<polygon points="1044.8,1274.0 1054.8,1293.0 1034.8,1293.0" fill="#000" stroke="#000" stroke-width="1" stroke-linejoin="round"/>
<polygon points="1044.8,1396.7 1034.8,1377.7 1054.8,1377.7" fill="#000" stroke="#000" stroke-width="1" stroke-linejoin="round"/>
<rect x="956.6" y="1312.1" width="84.4" height="23.4" fill="#fff"/>
<text x="958.6" y="1333.5" font-family="Liberation Sans, sans-serif" font-weight="bold" font-size="29.0" textLength="80.4" lengthAdjust="spacingAndGlyphs">12.00"</text>
<line x1="974.0" y1="853.8" x2="974.0" y2="891.4" stroke="#000" stroke-width="1.80" stroke-linecap="round" />
<polygon points="974.0,842.8 983.0,859.8 965.0,859.8" fill="#000" stroke="#000" stroke-width="1" stroke-linejoin="round"/>
<rect x="939.9" y="925.3" width="82.7" height="23.4" fill="#fff"/>
<text x="941.9" y="946.7" font-family="Liberation Sans, sans-serif" font-weight="bold" font-size="29.0" textLength="78.7" lengthAdjust="spacingAndGlyphs">11.25"</text>
<line x1="973.0" y1="1003.6" x2="973.0" y2="958.7" stroke="#000" stroke-width="1.80" stroke-linecap="round" />
<polygon points="973.0,1014.6 964.0,997.6 982.0,997.6" fill="#000" stroke="#000" stroke-width="1" stroke-linejoin="round"/>
<line x1="927.4" y1="1007.0" x2="927.4" y2="1049.8" stroke="#000" stroke-width="1.80" stroke-linecap="round" />
<polygon points="927.4,996.0 936.4,1013.0 918.4,1013.0" fill="#000" stroke="#000" stroke-width="1" stroke-linejoin="round"/>
<rect x="894.4" y="1057.4" width="69.2" height="23.4" fill="#fff"/>
<text x="896.4" y="1078.8" font-family="Liberation Sans, sans-serif" font-weight="bold" font-size="29.0" textLength="65.2" lengthAdjust="spacingAndGlyphs">9.75"</text>
<line x1="925.3" y1="1126.8" x2="925.3" y2="1086.0" stroke="#000" stroke-width="1.80" stroke-linecap="round" />
<polygon points="925.3,1137.8 916.3,1120.8 934.3,1120.8" fill="#000" stroke="#000" stroke-width="1" stroke-linejoin="round"/>
<line x1="870.5" y1="1124.0" x2="870.5" y2="1203.0" stroke="#000" stroke-width="1.80" stroke-linecap="round" />
<polygon points="870.5,1113.0 879.5,1130.0 861.5,1130.0" fill="#000" stroke="#000" stroke-width="1" stroke-linejoin="round"/>
<rect x="838.1" y="1206.2" width="84.8" height="23.4" fill="#fff"/>
<text x="840.1" y="1227.6" font-family="Liberation Sans, sans-serif" font-weight="bold" font-size="29.0" textLength="80.8" lengthAdjust="spacingAndGlyphs">12.00"</text>
<line x1="868.1" y1="1273.6" x2="868.1" y2="1234.9" stroke="#000" stroke-width="1.80" stroke-linecap="round" />
<polygon points="868.1,1284.6 859.1,1267.6 877.1,1267.6" fill="#000" stroke="#000" stroke-width="1" stroke-linejoin="round"/>
<line x1="813.2" y1="1271.7" x2="813.2" y2="1328.0" stroke="#000" stroke-width="1.80" stroke-linecap="round" />
<polygon points="813.2,1260.7 822.2,1277.7 804.2,1277.7" fill="#000" stroke="#000" stroke-width="1" stroke-linejoin="round"/>
<rect x="779.1" y="1333.6" width="84.8" height="23.4" fill="#fff"/>
<text x="781.1" y="1355.0" font-family="Liberation Sans, sans-serif" font-weight="bold" font-size="29.0" textLength="80.8" lengthAdjust="spacingAndGlyphs">12.00"</text>
<line x1="813.2" y1="1420.6" x2="813.2" y2="1362.2" stroke="#000" stroke-width="1.80" stroke-linecap="round" />
<polygon points="813.2,1431.6 804.2,1414.6 822.2,1414.6" fill="#000" stroke="#000" stroke-width="1" stroke-linejoin="round"/>
<line x1="765.6" y1="1422.9" x2="765.6" y2="1467.8" stroke="#000" stroke-width="1.80" stroke-linecap="round" />
<polygon points="765.6,1411.9 774.6,1428.9 756.6,1428.9" fill="#000" stroke="#000" stroke-width="1" stroke-linejoin="round"/>
<rect x="734.6" y="1474.3" width="69.2" height="23.4" fill="#fff"/>
<text x="736.6" y="1495.7" font-family="Liberation Sans, sans-serif" font-weight="bold" font-size="29.0" textLength="65.2" lengthAdjust="spacingAndGlyphs">7.75"</text>
<line x1="765.6" y1="1523.0" x2="765.6" y2="1503.0" stroke="#000" stroke-width="1.80" stroke-linecap="round" />
<polygon points="765.6,1534.0 756.6,1517.0 774.6,1517.0" fill="#000" stroke="#000" stroke-width="1" stroke-linejoin="round"/>
<line x1="958.0" y1="723.0" x2="981.7" y2="737.7" stroke="#000" stroke-width="1.80" stroke-linecap="round" />
<line x1="1041.4" y1="771.4" x2="1052.0" y2="777.5" stroke="#000" stroke-width="1.80" stroke-linecap="round" />
<polygon points="950.9,714.5 965.7,716.7 954.5,735.5" fill="#000" stroke="#000" stroke-width="1.00" stroke-linejoin="round" />
<polygon points="1063.2,783.3 1044.3,782.6 1056.7,766.7" fill="#000" stroke="#000" stroke-width="1.00" stroke-linejoin="round" />
<rect x="989.4" y="736.6" width="84.1" height="23.4" fill="#fff"/>
<text x="991.4" y="758.0" font-family="Liberation Sans, sans-serif" font-weight="bold" font-size="29.0" textLength="80.1" lengthAdjust="spacingAndGlyphs">14.50"</text>
<line x1="900.0" y1="481.8" x2="1402.3" y2="481.9" stroke="#000" stroke-width="1.80" stroke-linecap="round" />
<polygon points="889.4,481.8 908.0,472.4 908.0,491.2" fill="#000" stroke="#000" stroke-width="1" stroke-linejoin="round"/>
<rect x="1412.7" y="467.3" width="84.7" height="23.4" fill="#fff"/>
<text x="1414.7" y="488.7" font-family="Liberation Sans, sans-serif" font-weight="bold" font-size="29.0" textLength="80.7" lengthAdjust="spacingAndGlyphs">38.25"</text>
<rect x="743.0" y="39.3" width="475.0" height="25.9" fill="#fff"/>
<text x="745.0" y="63.2" font-family="Liberation Sans, sans-serif" font-weight="bold" font-size="32.5" textLength="471.0" lengthAdjust="spacingAndGlyphs">Inner Size : 76.00"W X 38.75"D</text>
<rect x="783.5" y="1881.4" width="480.2" height="25.9" fill="#fff"/>
<text x="785.5" y="1905.3" font-family="Liberation Sans, sans-serif" font-weight="bold" font-size="32.5" textLength="476.2" lengthAdjust="spacingAndGlyphs">Note : Dimension tolerance ±5%</text>
</svg></body></html>
